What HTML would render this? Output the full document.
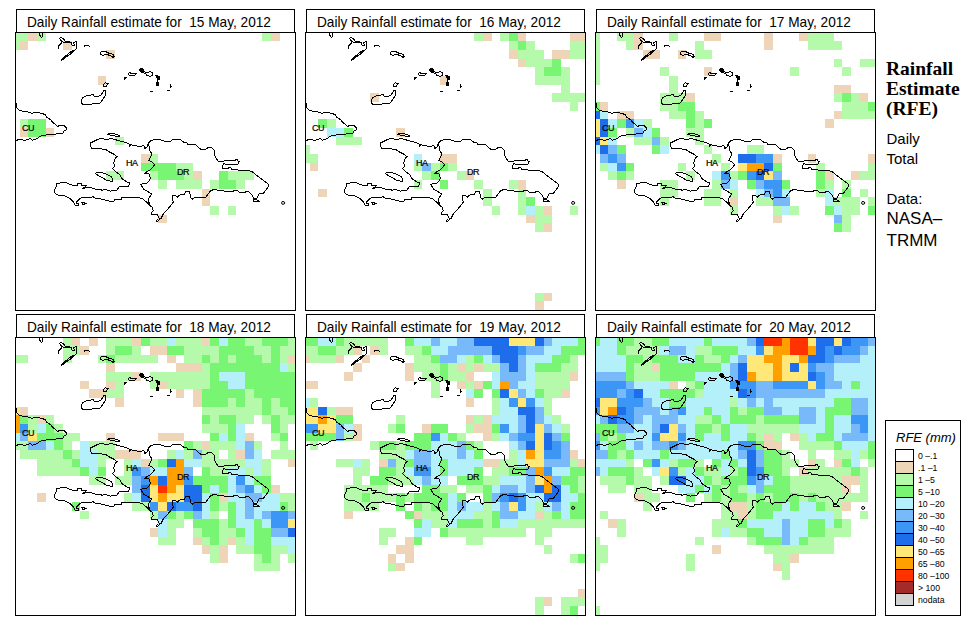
<!DOCTYPE html>
<html><head><meta charset="utf-8"><title>Rainfall Estimate</title>
<style>
html,body{margin:0;padding:0;background:#fff}
body{width:971px;height:635px;position:relative;overflow:hidden;font-family:"Liberation Sans",sans-serif;color:#000}
.t{position:absolute;font-size:14.8px;line-height:22px;white-space:pre;transform:scaleX(0.922);transform-origin:0 0}
.c{position:absolute;font-size:9px;line-height:10px;letter-spacing:-0.5px;-webkit-text-stroke:0.2px #000}
.rt{position:absolute;left:886px;top:59.1px;font-family:"Liberation Serif",serif;font-weight:bold;font-size:19.5px;line-height:19.8px;white-space:nowrap}
.rs{position:absolute;left:886.5px;font-size:15px;line-height:20px;white-space:nowrap}
.rb{position:absolute;left:886.5px;font-size:17px;line-height:22px;white-space:nowrap}
.lg{position:absolute;left:885px;top:420px;width:74px;height:194px;border:1px solid #000;box-sizing:content-box}
.lt{position:absolute;left:10px;top:8.6px;font-style:italic;font-size:13px;line-height:15px;white-space:nowrap}
.sw{position:absolute;left:9px;width:17px;height:11px;border:1px solid #000;box-sizing:content-box}
.ll{position:absolute;left:32px;font-size:8.7px;line-height:13px;white-space:nowrap}
</style></head><body>
<svg width="971" height="635" viewBox="0 0 971 635" style="position:absolute;left:0;top:0" shape-rendering="crispEdges"><rect x="16" y="33" width="12" height="8" fill="#B4FAAA"/><rect x="28" y="33" width="9" height="8" fill="#EED5B7"/><rect x="37" y="33" width="9" height="8" fill="#B4FAAA"/><rect x="262" y="33" width="9" height="8" fill="#B4FAAA"/><rect x="271" y="33" width="9" height="8" fill="#EED5B7"/><rect x="16" y="41" width="4" height="9" fill="#B4FAAA"/><rect x="20" y="41" width="8" height="9" fill="#EED5B7"/><rect x="63" y="41" width="9" height="9" fill="#EED5B7"/><rect x="106" y="50" width="9" height="9" fill="#EED5B7"/><rect x="98" y="76" width="8" height="9" fill="#EED5B7"/><rect x="20" y="119" width="8" height="9" fill="#B4FAAA"/><rect x="28" y="119" width="18" height="9" fill="#78F573"/><rect x="20" y="128" width="8" height="9" fill="#EED5B7"/><rect x="28" y="128" width="18" height="9" fill="#78F573"/><rect x="46" y="128" width="8" height="9" fill="#EED5B7"/><rect x="115" y="137" width="9" height="8" fill="#B4FAAA"/><rect x="141" y="154" width="9" height="9" fill="#EED5B7"/><rect x="150" y="154" width="8" height="9" fill="#B4FAAA"/><rect x="141" y="163" width="35" height="8" fill="#78F573"/><rect x="176" y="163" width="17" height="8" fill="#B4FAAA"/><rect x="106" y="171" width="18" height="9" fill="#B4FAAA"/><rect x="150" y="171" width="8" height="9" fill="#B4FAAA"/><rect x="158" y="171" width="26" height="9" fill="#78F573"/><rect x="184" y="171" width="9" height="9" fill="#B4FAAA"/><rect x="193" y="171" width="9" height="9" fill="#EED5B7"/><rect x="219" y="171" width="9" height="9" fill="#78F573"/><rect x="228" y="171" width="26" height="9" fill="#B4FAAA"/><rect x="158" y="180" width="9" height="9" fill="#B4FAAA"/><rect x="176" y="180" width="26" height="9" fill="#B4FAAA"/><rect x="210" y="180" width="9" height="9" fill="#B4FAAA"/><rect x="219" y="180" width="17" height="9" fill="#78F573"/><rect x="236" y="180" width="9" height="9" fill="#B4FAAA"/><rect x="202" y="189" width="8" height="8" fill="#EED5B7"/><rect x="202" y="197" width="8" height="9" fill="#EED5B7"/><rect x="210" y="206" width="9" height="9" fill="#B4FAAA"/><rect x="228" y="206" width="8" height="9" fill="#B4FAAA"/><rect x="158" y="215" width="9" height="8" fill="#EED5B7"/><g transform="translate(15,32)" fill="none" stroke="#000" stroke-width="1" shape-rendering="crispEdges" stroke-linejoin="round" stroke-linecap="round"><path d="M75.1,113.4 L75.7,110.9 L79.8,108.8 L85.4,106.2 L90.6,107.3 L96.8,106.8 L100.9,107.8 L105.5,109.3 L111.2,110.4 L114.3,112.4 L114.8,114.5 L115.8,112.9 L120.5,113.4 L124.1,115.0 L126.1,114.5 L127.7,113.2 L129.5,114.5 L129.7,116.3 L131.8,115.5 L133.3,111.4 L135.9,108.8 L140.0,107.5 L144.2,107.5 L148.3,108.8 L152.4,109.8 L155.0,109.5 L158.1,107.4 L161.7,107.9 L165.3,107.2 L168.4,110.0 L172.0,111.0 L172.5,112.4 L180.7,112.4 L183.3,115.1 L185.9,117.5 L190.5,117.5 L193.1,115.5 L196.7,115.5 L199.3,118.2 L199.5,122.9 L200.8,126.0 L203.4,129.3 L208.6,129.3 L210.6,128.5 L216.8,128.5 L219.4,129.0 L220.9,127.5 L222.5,127.5 L223.0,129.0 L224.5,129.6 L222.8,132.1 L216.8,132.3 L211.1,132.3 L208.6,131.6 L207.7,134.2 L207.5,136.3 L213.7,136.3 L214.2,135.2 L215.8,135.4 L216.8,137.1 L220.9,137.8 L225.0,138.3 L226.1,139.1 L228.6,138.3 L233.3,138.3 L237.4,139.9 L240.5,142.4 L244.6,145.5 L248.7,148.6 L252.3,151.2 L253.9,152.7 L253.9,153.6 L251.1,157.7 L248.5,161.3 L244.4,161.0 L243.0,163.9 L241.8,166.5 L238.7,167.0 L238.2,166.0 L237.2,162.9 L234.1,160.0 L231.0,159.3 L229.4,161.0 L225.3,160.6 L222.2,158.7 L218.6,158.2 L218.1,159.3 L209.9,159.3 L207.8,158.2 L203.2,158.2 L198.5,157.5 L194.9,159.3 L192.9,162.4 L190.7,165.1 L179.9,165.1 L177.3,167.2 L175.6,165.9 L174.7,159.8 L171.1,159.3 L169.6,162.1 L165.5,162.4 L162.4,165.1 L160.3,163.4 L157.7,163.6 L157.4,166.2 L158.3,170.0 L154.7,174.9 L150.0,180.1 L148.0,182.6 L145.9,186.8 L144.4,187.3 L142.3,182.3 L136.6,182.1 L137.1,179.6 L138.2,179.0 L137.1,175.1 L134.6,173.4 L131.5,169.9 L127.4,166.8 L123.3,165.3 L115.0,165.3 L106.8,165.6 L106.3,167.9 L99.6,167.4 L99.1,168.9 L96.5,169.4 L91.3,168.4 L84.1,166.6 L79.0,165.8 L78.0,164.6 L75.9,165.3 L71.8,165.8 L66.1,165.8 L63.0,168.4 L61.0,171.0 L63.4,171.5 L63.4,173.5 L60.3,173.3 L58.3,170.0 L56.6,167.9 L53.6,165.6 L49.4,163.7 L45.3,163.5 L41.2,162.5 L39.6,160.1 L39.6,158.1 L41.0,155.0 L41.7,151.9 L46.3,150.6 L50.5,150.2 L52.5,151.4 L57.7,153.4 L62.8,154.0 L62.8,151.4 L65.9,151.2 L66.9,153.4 L71.1,153.2 L70.0,156.0 L67.5,156.5 L70.2,155.0 L75.9,155.5 L80.0,157.1 L87.2,158.1 L90.3,157.6 L95.5,159.1 L102.2,158.1 L104.2,154.5 L108.9,154.3 L113.5,155.0 L114.5,150.9 L111.2,149.5 L106.6,146.4 L105.0,142.8 L100.9,139.7 L97.8,136.6 L99.9,133.5 L98.3,131.0 L99.4,128.9 L100.4,125.8 L102.4,125.0 L99.9,122.7 L94.7,120.1 L90.6,117.4 L83.4,116.7 L76.7,116.5Z"/><path d="M133.3,111.4 L134.4,115.5 L134.9,118.6 L136.4,121.2 L135.9,124.3 L134.4,126.8 L133.9,128.4 L136.9,129.9 L139.8,132.5 L138.0,135.1 L135.4,137.6 L132.8,139.2 L129.7,141.3 L133.9,141.8 L134.7,143.3 L135.4,146.4 L133.9,149.0 L132.3,151.0 L125.5,152.4 L128.9,157.4 L133.6,160.1 L136.7,162.2 L135.6,163.7 L133.5,167.0 L133.8,169.5 L134.6,173.4"/><path d="M1.2,71.6 L1.9,76.2 L4.6,78.8 L10.3,79.3 L15.4,80.6 L17.0,81.4 L19.1,80.4 L23.2,80.6 L29.9,82.4 L31.9,85.5 L35.5,87.6 L37.6,90.1 L40.7,92.7 L42.7,94.3 L45.8,93.2 L48.9,93.5 L51.5,95.8 L51.0,97.9 L48.4,99.4 L47.9,101.0 L43.3,101.5 L39.1,102.5 L30.9,103.0 L25.7,104.0 L22.1,106.6 L19.1,107.6 L17.0,108.2 L15.4,106.1 L13.4,107.6 L9.3,108.2 L5.1,107.3 L1.0,108.4"/><path d="M66.3,68.6 L67.4,66.0 L72.0,63.5 L76.6,63.0 L78.5,62.4 L78.9,64.0 L82.3,64.5 L85.4,63.5 L88.0,60.4 L88.8,58.3 L90.5,58.3 L90.8,62.4 L89.0,65.5 L86.9,68.6 L84.9,71.2 L77.1,72.0 L73.5,72.2 L67.9,72.2 L66.3,70.7Z"/><path d="M88.2,52.9 L90.5,50.8 L93.3,51.8 L91.0,54.5 L89.0,54.5Z"/><path d="M92.1,102.3 L95.2,101.1 L99.9,101.9 L105.0,103.7 L104.0,104.7 L98.8,103.7 L94.7,102.9Z"/><path d="M80.3,141.3 L82.9,140.0 L86.5,140.4 L92.1,142.3 L96.3,144.9 L97.8,147.4 L97.3,149.5 L92.1,148.5 L87.0,145.6 L82.9,143.3Z"/><path d="M66.9,170.4 L69.2,170.2 L70.0,171.5 L69.5,172.8 L67.5,172.5Z"/><path d="M70.0,171.5 L71.6,171.5"/><path d="M141.3,188.8 L142.3,187.5 L143.6,188.5 L142.6,189.9Z"/><path d="M24.2,1.2 L25.2,4.1 L26.6,5.4 L27.6,3.6 L27.3,1.2"/><path d="M44.3,6.5 L45.8,5.4 L47.9,6.4 L50.5,9.3 L56.1,10.1 L56.4,12.9 L59.2,13.4 L58.7,10.3 L61.6,9.5 L61.8,16.5 L59.2,18.5 L55.6,22.1 L50.5,25.2 L46.3,28.8 L46.9,27.3 L51.5,23.2 L56.1,19.6 L58.7,18.0"/><path d="M47.4,9.8 L45.3,12.4 L43.3,14.4 L43.3,16.5"/><path d="M44.3,6.5 L47.4,9.8 L51.0,10.8 L56.1,10.1"/><path d="M69.0,15.4 L69.0,13.1 L72.0,13.1 L74.7,14.4"/><path d="M85.3,21.1 L86.5,19.4 L90.6,19.6 L93.7,21.1 L97.8,22.1 L99.7,24.7 L97.8,25.2 L95.3,23.2 L90.6,22.7 L87.5,23.5 L85.5,22.1Z"/><path d="M124.2,37.7 L126.1,36.4 L128.3,37.4 L128.6,39.8 L131.7,40.3 L135.8,39.8 L137.9,41.3 L137.2,43.9 L134.3,44.2 L131.7,43.2 L130.2,41.3 L127.1,40.3 L125.0,39.1Z"/><path d="M140.3,43.4 L142.5,44.4 L144.6,44.4 L144.8,47.5 L143.1,47.0 L142.5,50.1 L143.8,51.1 L143.4,53.2 L141.3,53.7 L141.7,51.1"/><path d="M155.2,52.1 L155.4,55.2 L156.7,54.2"/><path d="M237.9,168.9 L238.9,167.4 L241.6,167.0 L241.9,168.2 L244.5,169.4 L238.3,169.4Z"/><path d="M113.5,42.4 L114.5,40.3 L116.6,41.8 L119.4,41.5 L121.7,41.1 L119.9,43.4 L116.8,43.6 L114.2,43.4Z"/><g fill="#000"><path d="M109.1,45.4 L111.6,45.2 L109.6,47.7Z"/><path d="M140.6,43.6 L144.6,44.4 L144.8,47.5 L143.1,47.0 L142.2,45.6Z"/><path d="M141.5,50.8 L143.6,51.0 L143.4,53.2 L141.5,53.5Z"/><path d="M124.4,37.7 L126.1,36.6 L128.1,37.5 L128.4,39.6 L127.1,40.1 L125.2,39.0Z"/></g><path d="M135.1,59.4H137.9M152.9,58.3H155"/><circle cx="268.1" cy="170.9" r="1.5" shape-rendering="geometricPrecision"/></g><rect x="15.5" y="32.5" width="280" height="278" fill="none" stroke="#000" stroke-width="1"/><rect x="16.5" y="9.5" width="278" height="23" fill="#fff" stroke="#000" stroke-width="1"/><rect x="474" y="33" width="9" height="8" fill="#B4FAAA"/><rect x="483" y="33" width="9" height="8" fill="#EED5B7"/><rect x="500" y="33" width="9" height="8" fill="#B4FAAA"/><rect x="509" y="33" width="9" height="8" fill="#78F573"/><rect x="518" y="33" width="8" height="8" fill="#EED5B7"/><rect x="570" y="33" width="15" height="8" fill="#EED5B7"/><rect x="509" y="41" width="9" height="9" fill="#B4FAAA"/><rect x="518" y="41" width="8" height="9" fill="#78F573"/><rect x="526" y="41" width="9" height="9" fill="#B4FAAA"/><rect x="570" y="41" width="15" height="9" fill="#B4FAAA"/><rect x="509" y="50" width="9" height="9" fill="#EED5B7"/><rect x="518" y="50" width="26" height="9" fill="#B4FAAA"/><rect x="552" y="50" width="18" height="9" fill="#EED5B7"/><rect x="570" y="50" width="15" height="9" fill="#B4FAAA"/><rect x="518" y="59" width="8" height="8" fill="#EED5B7"/><rect x="526" y="59" width="26" height="8" fill="#B4FAAA"/><rect x="552" y="59" width="9" height="8" fill="#78F573"/><rect x="535" y="67" width="9" height="9" fill="#B4FAAA"/><rect x="544" y="67" width="17" height="9" fill="#78F573"/><rect x="561" y="67" width="9" height="9" fill="#B4FAAA"/><rect x="440" y="76" width="8" height="9" fill="#EED5B7"/><rect x="535" y="76" width="35" height="9" fill="#B4FAAA"/><rect x="561" y="85" width="9" height="8" fill="#B4FAAA"/><rect x="370" y="93" width="9" height="9" fill="#EED5B7"/><rect x="552" y="93" width="33" height="9" fill="#B4FAAA"/><rect x="570" y="102" width="8" height="9" fill="#B4FAAA"/><rect x="318" y="119" width="9" height="9" fill="#78F573"/><rect x="327" y="119" width="9" height="9" fill="#B4FAAA"/><rect x="327" y="128" width="17" height="9" fill="#B4F0FA"/><rect x="344" y="128" width="9" height="9" fill="#78F573"/><rect x="396" y="128" width="9" height="9" fill="#EED5B7"/><rect x="336" y="137" width="26" height="8" fill="#B4FAAA"/><rect x="306" y="145" width="4" height="9" fill="#B4FAAA"/><rect x="306" y="154" width="12" height="9" fill="#B4FAAA"/><rect x="414" y="154" width="8" height="9" fill="#B4F0FA"/><rect x="440" y="154" width="17" height="9" fill="#EED5B7"/><rect x="310" y="163" width="8" height="8" fill="#EED5B7"/><rect x="414" y="163" width="8" height="8" fill="#B4FAAA"/><rect x="422" y="163" width="9" height="8" fill="#78B9FA"/><rect x="431" y="163" width="9" height="8" fill="#B4FAAA"/><rect x="440" y="163" width="8" height="8" fill="#78F573"/><rect x="448" y="163" width="9" height="8" fill="#B4FAAA"/><rect x="422" y="171" width="9" height="9" fill="#B4FAAA"/><rect x="431" y="171" width="9" height="9" fill="#78F573"/><rect x="457" y="171" width="9" height="9" fill="#B4FAAA"/><rect x="466" y="171" width="8" height="9" fill="#EED5B7"/><rect x="414" y="180" width="8" height="9" fill="#B4FAAA"/><rect x="440" y="180" width="8" height="9" fill="#78F573"/><rect x="474" y="180" width="9" height="9" fill="#B4FAAA"/><rect x="509" y="180" width="9" height="9" fill="#B4FAAA"/><rect x="518" y="180" width="8" height="9" fill="#EED5B7"/><rect x="318" y="189" width="9" height="8" fill="#EED5B7"/><rect x="483" y="189" width="9" height="8" fill="#B4FAAA"/><rect x="518" y="189" width="8" height="8" fill="#B4FAAA"/><rect x="483" y="197" width="9" height="9" fill="#B4FAAA"/><rect x="518" y="197" width="8" height="9" fill="#B4FAAA"/><rect x="526" y="197" width="9" height="9" fill="#78F573"/><rect x="492" y="206" width="8" height="9" fill="#B4FAAA"/><rect x="518" y="206" width="8" height="9" fill="#B4FAAA"/><rect x="526" y="206" width="9" height="9" fill="#B4F0FA"/><rect x="535" y="206" width="9" height="9" fill="#B4FAAA"/><rect x="544" y="206" width="8" height="9" fill="#EED5B7"/><rect x="570" y="206" width="8" height="9" fill="#B4FAAA"/><rect x="526" y="215" width="9" height="8" fill="#EED5B7"/><rect x="535" y="215" width="17" height="8" fill="#B4FAAA"/><rect x="535" y="223" width="9" height="9" fill="#B4FAAA"/><rect x="544" y="223" width="8" height="9" fill="#EED5B7"/><rect x="535" y="293" width="9" height="8" fill="#B4FAAA"/><rect x="544" y="293" width="8" height="8" fill="#EED5B7"/><rect x="535" y="301" width="9" height="9" fill="#EED5B7"/><g transform="translate(305,32)" fill="none" stroke="#000" stroke-width="1" shape-rendering="crispEdges" stroke-linejoin="round" stroke-linecap="round"><path d="M75.1,113.4 L75.7,110.9 L79.8,108.8 L85.4,106.2 L90.6,107.3 L96.8,106.8 L100.9,107.8 L105.5,109.3 L111.2,110.4 L114.3,112.4 L114.8,114.5 L115.8,112.9 L120.5,113.4 L124.1,115.0 L126.1,114.5 L127.7,113.2 L129.5,114.5 L129.7,116.3 L131.8,115.5 L133.3,111.4 L135.9,108.8 L140.0,107.5 L144.2,107.5 L148.3,108.8 L152.4,109.8 L155.0,109.5 L158.1,107.4 L161.7,107.9 L165.3,107.2 L168.4,110.0 L172.0,111.0 L172.5,112.4 L180.7,112.4 L183.3,115.1 L185.9,117.5 L190.5,117.5 L193.1,115.5 L196.7,115.5 L199.3,118.2 L199.5,122.9 L200.8,126.0 L203.4,129.3 L208.6,129.3 L210.6,128.5 L216.8,128.5 L219.4,129.0 L220.9,127.5 L222.5,127.5 L223.0,129.0 L224.5,129.6 L222.8,132.1 L216.8,132.3 L211.1,132.3 L208.6,131.6 L207.7,134.2 L207.5,136.3 L213.7,136.3 L214.2,135.2 L215.8,135.4 L216.8,137.1 L220.9,137.8 L225.0,138.3 L226.1,139.1 L228.6,138.3 L233.3,138.3 L237.4,139.9 L240.5,142.4 L244.6,145.5 L248.7,148.6 L252.3,151.2 L253.9,152.7 L253.9,153.6 L251.1,157.7 L248.5,161.3 L244.4,161.0 L243.0,163.9 L241.8,166.5 L238.7,167.0 L238.2,166.0 L237.2,162.9 L234.1,160.0 L231.0,159.3 L229.4,161.0 L225.3,160.6 L222.2,158.7 L218.6,158.2 L218.1,159.3 L209.9,159.3 L207.8,158.2 L203.2,158.2 L198.5,157.5 L194.9,159.3 L192.9,162.4 L190.7,165.1 L179.9,165.1 L177.3,167.2 L175.6,165.9 L174.7,159.8 L171.1,159.3 L169.6,162.1 L165.5,162.4 L162.4,165.1 L160.3,163.4 L157.7,163.6 L157.4,166.2 L158.3,170.0 L154.7,174.9 L150.0,180.1 L148.0,182.6 L145.9,186.8 L144.4,187.3 L142.3,182.3 L136.6,182.1 L137.1,179.6 L138.2,179.0 L137.1,175.1 L134.6,173.4 L131.5,169.9 L127.4,166.8 L123.3,165.3 L115.0,165.3 L106.8,165.6 L106.3,167.9 L99.6,167.4 L99.1,168.9 L96.5,169.4 L91.3,168.4 L84.1,166.6 L79.0,165.8 L78.0,164.6 L75.9,165.3 L71.8,165.8 L66.1,165.8 L63.0,168.4 L61.0,171.0 L63.4,171.5 L63.4,173.5 L60.3,173.3 L58.3,170.0 L56.6,167.9 L53.6,165.6 L49.4,163.7 L45.3,163.5 L41.2,162.5 L39.6,160.1 L39.6,158.1 L41.0,155.0 L41.7,151.9 L46.3,150.6 L50.5,150.2 L52.5,151.4 L57.7,153.4 L62.8,154.0 L62.8,151.4 L65.9,151.2 L66.9,153.4 L71.1,153.2 L70.0,156.0 L67.5,156.5 L70.2,155.0 L75.9,155.5 L80.0,157.1 L87.2,158.1 L90.3,157.6 L95.5,159.1 L102.2,158.1 L104.2,154.5 L108.9,154.3 L113.5,155.0 L114.5,150.9 L111.2,149.5 L106.6,146.4 L105.0,142.8 L100.9,139.7 L97.8,136.6 L99.9,133.5 L98.3,131.0 L99.4,128.9 L100.4,125.8 L102.4,125.0 L99.9,122.7 L94.7,120.1 L90.6,117.4 L83.4,116.7 L76.7,116.5Z"/><path d="M133.3,111.4 L134.4,115.5 L134.9,118.6 L136.4,121.2 L135.9,124.3 L134.4,126.8 L133.9,128.4 L136.9,129.9 L139.8,132.5 L138.0,135.1 L135.4,137.6 L132.8,139.2 L129.7,141.3 L133.9,141.8 L134.7,143.3 L135.4,146.4 L133.9,149.0 L132.3,151.0 L125.5,152.4 L128.9,157.4 L133.6,160.1 L136.7,162.2 L135.6,163.7 L133.5,167.0 L133.8,169.5 L134.6,173.4"/><path d="M1.2,71.6 L1.9,76.2 L4.6,78.8 L10.3,79.3 L15.4,80.6 L17.0,81.4 L19.1,80.4 L23.2,80.6 L29.9,82.4 L31.9,85.5 L35.5,87.6 L37.6,90.1 L40.7,92.7 L42.7,94.3 L45.8,93.2 L48.9,93.5 L51.5,95.8 L51.0,97.9 L48.4,99.4 L47.9,101.0 L43.3,101.5 L39.1,102.5 L30.9,103.0 L25.7,104.0 L22.1,106.6 L19.1,107.6 L17.0,108.2 L15.4,106.1 L13.4,107.6 L9.3,108.2 L5.1,107.3 L1.0,108.4"/><path d="M66.3,68.6 L67.4,66.0 L72.0,63.5 L76.6,63.0 L78.5,62.4 L78.9,64.0 L82.3,64.5 L85.4,63.5 L88.0,60.4 L88.8,58.3 L90.5,58.3 L90.8,62.4 L89.0,65.5 L86.9,68.6 L84.9,71.2 L77.1,72.0 L73.5,72.2 L67.9,72.2 L66.3,70.7Z"/><path d="M88.2,52.9 L90.5,50.8 L93.3,51.8 L91.0,54.5 L89.0,54.5Z"/><path d="M92.1,102.3 L95.2,101.1 L99.9,101.9 L105.0,103.7 L104.0,104.7 L98.8,103.7 L94.7,102.9Z"/><path d="M80.3,141.3 L82.9,140.0 L86.5,140.4 L92.1,142.3 L96.3,144.9 L97.8,147.4 L97.3,149.5 L92.1,148.5 L87.0,145.6 L82.9,143.3Z"/><path d="M66.9,170.4 L69.2,170.2 L70.0,171.5 L69.5,172.8 L67.5,172.5Z"/><path d="M70.0,171.5 L71.6,171.5"/><path d="M141.3,188.8 L142.3,187.5 L143.6,188.5 L142.6,189.9Z"/><path d="M24.2,1.2 L25.2,4.1 L26.6,5.4 L27.6,3.6 L27.3,1.2"/><path d="M44.3,6.5 L45.8,5.4 L47.9,6.4 L50.5,9.3 L56.1,10.1 L56.4,12.9 L59.2,13.4 L58.7,10.3 L61.6,9.5 L61.8,16.5 L59.2,18.5 L55.6,22.1 L50.5,25.2 L46.3,28.8 L46.9,27.3 L51.5,23.2 L56.1,19.6 L58.7,18.0"/><path d="M47.4,9.8 L45.3,12.4 L43.3,14.4 L43.3,16.5"/><path d="M44.3,6.5 L47.4,9.8 L51.0,10.8 L56.1,10.1"/><path d="M69.0,15.4 L69.0,13.1 L72.0,13.1 L74.7,14.4"/><path d="M85.3,21.1 L86.5,19.4 L90.6,19.6 L93.7,21.1 L97.8,22.1 L99.7,24.7 L97.8,25.2 L95.3,23.2 L90.6,22.7 L87.5,23.5 L85.5,22.1Z"/><path d="M124.2,37.7 L126.1,36.4 L128.3,37.4 L128.6,39.8 L131.7,40.3 L135.8,39.8 L137.9,41.3 L137.2,43.9 L134.3,44.2 L131.7,43.2 L130.2,41.3 L127.1,40.3 L125.0,39.1Z"/><path d="M140.3,43.4 L142.5,44.4 L144.6,44.4 L144.8,47.5 L143.1,47.0 L142.5,50.1 L143.8,51.1 L143.4,53.2 L141.3,53.7 L141.7,51.1"/><path d="M155.2,52.1 L155.4,55.2 L156.7,54.2"/><path d="M237.9,168.9 L238.9,167.4 L241.6,167.0 L241.9,168.2 L244.5,169.4 L238.3,169.4Z"/><path d="M113.5,42.4 L114.5,40.3 L116.6,41.8 L119.4,41.5 L121.7,41.1 L119.9,43.4 L116.8,43.6 L114.2,43.4Z"/><g fill="#000"><path d="M109.1,45.4 L111.6,45.2 L109.6,47.7Z"/><path d="M140.6,43.6 L144.6,44.4 L144.8,47.5 L143.1,47.0 L142.2,45.6Z"/><path d="M141.5,50.8 L143.6,51.0 L143.4,53.2 L141.5,53.5Z"/><path d="M124.4,37.7 L126.1,36.6 L128.1,37.5 L128.4,39.6 L127.1,40.1 L125.2,39.0Z"/></g><path d="M135.1,59.4H137.9M152.9,58.3H155"/><circle cx="268.1" cy="170.9" r="1.5" shape-rendering="geometricPrecision"/></g><rect x="305.5" y="32.5" width="280" height="278" fill="none" stroke="#000" stroke-width="1"/><rect x="306.5" y="9.5" width="278" height="23" fill="#fff" stroke="#000" stroke-width="1"/><rect x="596" y="33" width="4" height="8" fill="#B4FAAA"/><rect x="617" y="33" width="17" height="8" fill="#B4FAAA"/><rect x="634" y="33" width="9" height="8" fill="#EED5B7"/><rect x="669" y="33" width="9" height="8" fill="#B4FAAA"/><rect x="704" y="33" width="17" height="8" fill="#EED5B7"/><rect x="764" y="33" width="9" height="8" fill="#EED5B7"/><rect x="799" y="33" width="9" height="8" fill="#EED5B7"/><rect x="808" y="33" width="26" height="8" fill="#B4FAAA"/><rect x="596" y="41" width="4" height="9" fill="#B4FAAA"/><rect x="626" y="41" width="8" height="9" fill="#B4FAAA"/><rect x="634" y="41" width="9" height="9" fill="#EED5B7"/><rect x="695" y="41" width="9" height="9" fill="#B4FAAA"/><rect x="764" y="41" width="9" height="9" fill="#EED5B7"/><rect x="808" y="41" width="34" height="9" fill="#B4FAAA"/><rect x="596" y="50" width="4" height="9" fill="#B4FAAA"/><rect x="643" y="50" width="17" height="9" fill="#EED5B7"/><rect x="678" y="50" width="8" height="9" fill="#EED5B7"/><rect x="695" y="50" width="17" height="9" fill="#B4FAAA"/><rect x="596" y="59" width="4" height="8" fill="#B4FAAA"/><rect x="834" y="59" width="8" height="8" fill="#B4FAAA"/><rect x="860" y="59" width="15" height="8" fill="#B4FAAA"/><rect x="596" y="67" width="4" height="9" fill="#B4FAAA"/><rect x="660" y="67" width="9" height="9" fill="#B4FAAA"/><rect x="704" y="67" width="8" height="9" fill="#EED5B7"/><rect x="790" y="67" width="9" height="9" fill="#B4FAAA"/><rect x="842" y="67" width="9" height="9" fill="#B4FAAA"/><rect x="596" y="76" width="4" height="9" fill="#B4FAAA"/><rect x="669" y="76" width="9" height="9" fill="#B4FAAA"/><rect x="669" y="85" width="9" height="8" fill="#B4FAAA"/><rect x="834" y="85" width="17" height="8" fill="#EED5B7"/><rect x="660" y="93" width="26" height="9" fill="#B4FAAA"/><rect x="686" y="93" width="9" height="9" fill="#EED5B7"/><rect x="834" y="93" width="8" height="9" fill="#B4FAAA"/><rect x="842" y="93" width="9" height="9" fill="#78F573"/><rect x="851" y="93" width="9" height="9" fill="#B4FAAA"/><rect x="860" y="93" width="8" height="9" fill="#EED5B7"/><rect x="596" y="102" width="4" height="9" fill="#78F573"/><rect x="600" y="102" width="8" height="9" fill="#EED5B7"/><rect x="660" y="102" width="18" height="9" fill="#B4FAAA"/><rect x="678" y="102" width="17" height="9" fill="#78F573"/><rect x="842" y="102" width="26" height="9" fill="#B4FAAA"/><rect x="868" y="102" width="7" height="9" fill="#78F573"/><rect x="596" y="111" width="4" height="8" fill="#1E6EEB"/><rect x="600" y="111" width="8" height="8" fill="#B4F0FA"/><rect x="617" y="111" width="17" height="8" fill="#EED5B7"/><rect x="669" y="111" width="17" height="8" fill="#B4FAAA"/><rect x="686" y="111" width="9" height="8" fill="#78F573"/><rect x="695" y="111" width="9" height="8" fill="#B4FAAA"/><rect x="834" y="111" width="8" height="8" fill="#EED5B7"/><rect x="842" y="111" width="33" height="8" fill="#B4FAAA"/><rect x="596" y="119" width="4" height="9" fill="#FFE878"/><rect x="600" y="119" width="8" height="9" fill="#1E6EEB"/><rect x="608" y="119" width="9" height="9" fill="#B4F0FA"/><rect x="617" y="119" width="9" height="9" fill="#78F573"/><rect x="626" y="119" width="8" height="9" fill="#3C96F5"/><rect x="634" y="119" width="9" height="9" fill="#B4F0FA"/><rect x="643" y="119" width="9" height="9" fill="#B4FAAA"/><rect x="686" y="119" width="9" height="9" fill="#78F573"/><rect x="695" y="119" width="9" height="9" fill="#B4FAAA"/><rect x="704" y="119" width="8" height="9" fill="#78F573"/><rect x="825" y="119" width="9" height="9" fill="#EED5B7"/><rect x="596" y="128" width="4" height="9" fill="#FFE878"/><rect x="600" y="128" width="8" height="9" fill="#1E6EEB"/><rect x="608" y="128" width="9" height="9" fill="#78F573"/><rect x="626" y="128" width="8" height="9" fill="#B4FAAA"/><rect x="634" y="128" width="9" height="9" fill="#78B9FA"/><rect x="643" y="128" width="9" height="9" fill="#B4F0FA"/><rect x="652" y="128" width="8" height="9" fill="#78F573"/><rect x="686" y="128" width="18" height="9" fill="#B4FAAA"/><rect x="596" y="137" width="4" height="8" fill="#1E6EEB"/><rect x="600" y="137" width="8" height="8" fill="#FFE878"/><rect x="608" y="137" width="9" height="8" fill="#B4F0FA"/><rect x="634" y="137" width="18" height="8" fill="#B4FAAA"/><rect x="652" y="137" width="8" height="8" fill="#78B9FA"/><rect x="660" y="137" width="9" height="8" fill="#B4FAAA"/><rect x="695" y="137" width="9" height="8" fill="#B4FAAA"/><rect x="596" y="145" width="4" height="9" fill="#B4F0FA"/><rect x="600" y="145" width="8" height="9" fill="#1E6EEB"/><rect x="608" y="145" width="9" height="9" fill="#78B9FA"/><rect x="617" y="145" width="9" height="9" fill="#78F573"/><rect x="652" y="145" width="8" height="9" fill="#78F573"/><rect x="660" y="145" width="9" height="9" fill="#B4F0FA"/><rect x="704" y="145" width="8" height="9" fill="#B4FAAA"/><rect x="747" y="145" width="17" height="9" fill="#B4FAAA"/><rect x="600" y="154" width="8" height="9" fill="#78B9FA"/><rect x="608" y="154" width="9" height="9" fill="#3C96F5"/><rect x="617" y="154" width="9" height="9" fill="#78B9FA"/><rect x="712" y="154" width="9" height="9" fill="#B4FAAA"/><rect x="738" y="154" width="18" height="9" fill="#1E6EEB"/><rect x="756" y="154" width="17" height="9" fill="#3C96F5"/><rect x="773" y="154" width="9" height="9" fill="#EED5B7"/><rect x="808" y="154" width="8" height="9" fill="#EED5B7"/><rect x="868" y="154" width="7" height="9" fill="#EED5B7"/><rect x="600" y="163" width="8" height="8" fill="#B4FAAA"/><rect x="608" y="163" width="9" height="8" fill="#B4F0FA"/><rect x="617" y="163" width="9" height="8" fill="#3C96F5"/><rect x="626" y="163" width="8" height="8" fill="#78F573"/><rect x="678" y="163" width="8" height="8" fill="#B4FAAA"/><rect x="721" y="163" width="9" height="8" fill="#B4FAAA"/><rect x="738" y="163" width="9" height="8" fill="#FFE878"/><rect x="747" y="163" width="17" height="8" fill="#FFA000"/><rect x="764" y="163" width="9" height="8" fill="#1E6EEB"/><rect x="773" y="163" width="9" height="8" fill="#78F573"/><rect x="816" y="163" width="9" height="8" fill="#B4FAAA"/><rect x="868" y="163" width="7" height="8" fill="#B4FAAA"/><rect x="608" y="171" width="9" height="9" fill="#B4FAAA"/><rect x="617" y="171" width="9" height="9" fill="#78F573"/><rect x="626" y="171" width="8" height="9" fill="#B4FAAA"/><rect x="686" y="171" width="9" height="9" fill="#B4FAAA"/><rect x="712" y="171" width="9" height="9" fill="#B4F0FA"/><rect x="721" y="171" width="9" height="9" fill="#3C96F5"/><rect x="730" y="171" width="8" height="9" fill="#B4FAAA"/><rect x="738" y="171" width="9" height="9" fill="#78F573"/><rect x="747" y="171" width="9" height="9" fill="#3C96F5"/><rect x="756" y="171" width="8" height="9" fill="#1E6EEB"/><rect x="764" y="171" width="9" height="9" fill="#FFE878"/><rect x="773" y="171" width="9" height="9" fill="#78B9FA"/><rect x="816" y="171" width="9" height="9" fill="#78F573"/><rect x="825" y="171" width="9" height="9" fill="#EED5B7"/><rect x="851" y="171" width="9" height="9" fill="#EED5B7"/><rect x="860" y="171" width="15" height="9" fill="#B4FAAA"/><rect x="617" y="180" width="9" height="9" fill="#EED5B7"/><rect x="660" y="180" width="18" height="9" fill="#B4FAAA"/><rect x="712" y="180" width="9" height="9" fill="#B4FAAA"/><rect x="721" y="180" width="9" height="9" fill="#78B9FA"/><rect x="730" y="180" width="8" height="9" fill="#B4F0FA"/><rect x="747" y="180" width="9" height="9" fill="#78F573"/><rect x="756" y="180" width="8" height="9" fill="#78B9FA"/><rect x="764" y="180" width="18" height="9" fill="#3C96F5"/><rect x="782" y="180" width="8" height="9" fill="#78F573"/><rect x="816" y="180" width="9" height="9" fill="#78F573"/><rect x="825" y="180" width="9" height="9" fill="#B4FAAA"/><rect x="842" y="180" width="9" height="9" fill="#B4FAAA"/><rect x="660" y="189" width="18" height="8" fill="#B4FAAA"/><rect x="704" y="189" width="17" height="8" fill="#B4FAAA"/><rect x="730" y="189" width="8" height="8" fill="#B4FAAA"/><rect x="756" y="189" width="8" height="8" fill="#B4F0FA"/><rect x="764" y="189" width="9" height="8" fill="#78B9FA"/><rect x="773" y="189" width="9" height="8" fill="#3C96F5"/><rect x="782" y="189" width="8" height="8" fill="#B4F0FA"/><rect x="816" y="189" width="9" height="8" fill="#B4FAAA"/><rect x="825" y="189" width="9" height="8" fill="#B4F0FA"/><rect x="842" y="189" width="9" height="8" fill="#78F573"/><rect x="860" y="189" width="8" height="8" fill="#B4FAAA"/><rect x="660" y="197" width="9" height="9" fill="#B4FAAA"/><rect x="704" y="197" width="17" height="9" fill="#B4FAAA"/><rect x="730" y="197" width="8" height="9" fill="#EED5B7"/><rect x="756" y="197" width="17" height="9" fill="#B4FAAA"/><rect x="773" y="197" width="17" height="9" fill="#78B9FA"/><rect x="825" y="197" width="9" height="9" fill="#B4F0FA"/><rect x="834" y="197" width="26" height="9" fill="#B4FAAA"/><rect x="868" y="197" width="7" height="9" fill="#B4FAAA"/><rect x="730" y="206" width="8" height="9" fill="#B4FAAA"/><rect x="773" y="206" width="9" height="9" fill="#B4FAAA"/><rect x="782" y="206" width="8" height="9" fill="#B4F0FA"/><rect x="790" y="206" width="9" height="9" fill="#B4FAAA"/><rect x="825" y="206" width="9" height="9" fill="#78F573"/><rect x="834" y="206" width="8" height="9" fill="#B4F0FA"/><rect x="842" y="206" width="18" height="9" fill="#B4FAAA"/><rect x="868" y="206" width="7" height="9" fill="#78F573"/><rect x="773" y="215" width="9" height="8" fill="#EED5B7"/><rect x="834" y="215" width="8" height="8" fill="#78B9FA"/><rect x="842" y="215" width="9" height="8" fill="#B4FAAA"/><rect x="834" y="223" width="8" height="9" fill="#78F573"/><rect x="842" y="223" width="9" height="9" fill="#B4FAAA"/><g transform="translate(595,32)" fill="none" stroke="#000" stroke-width="1" shape-rendering="crispEdges" stroke-linejoin="round" stroke-linecap="round"><path d="M75.1,113.4 L75.7,110.9 L79.8,108.8 L85.4,106.2 L90.6,107.3 L96.8,106.8 L100.9,107.8 L105.5,109.3 L111.2,110.4 L114.3,112.4 L114.8,114.5 L115.8,112.9 L120.5,113.4 L124.1,115.0 L126.1,114.5 L127.7,113.2 L129.5,114.5 L129.7,116.3 L131.8,115.5 L133.3,111.4 L135.9,108.8 L140.0,107.5 L144.2,107.5 L148.3,108.8 L152.4,109.8 L155.0,109.5 L158.1,107.4 L161.7,107.9 L165.3,107.2 L168.4,110.0 L172.0,111.0 L172.5,112.4 L180.7,112.4 L183.3,115.1 L185.9,117.5 L190.5,117.5 L193.1,115.5 L196.7,115.5 L199.3,118.2 L199.5,122.9 L200.8,126.0 L203.4,129.3 L208.6,129.3 L210.6,128.5 L216.8,128.5 L219.4,129.0 L220.9,127.5 L222.5,127.5 L223.0,129.0 L224.5,129.6 L222.8,132.1 L216.8,132.3 L211.1,132.3 L208.6,131.6 L207.7,134.2 L207.5,136.3 L213.7,136.3 L214.2,135.2 L215.8,135.4 L216.8,137.1 L220.9,137.8 L225.0,138.3 L226.1,139.1 L228.6,138.3 L233.3,138.3 L237.4,139.9 L240.5,142.4 L244.6,145.5 L248.7,148.6 L252.3,151.2 L253.9,152.7 L253.9,153.6 L251.1,157.7 L248.5,161.3 L244.4,161.0 L243.0,163.9 L241.8,166.5 L238.7,167.0 L238.2,166.0 L237.2,162.9 L234.1,160.0 L231.0,159.3 L229.4,161.0 L225.3,160.6 L222.2,158.7 L218.6,158.2 L218.1,159.3 L209.9,159.3 L207.8,158.2 L203.2,158.2 L198.5,157.5 L194.9,159.3 L192.9,162.4 L190.7,165.1 L179.9,165.1 L177.3,167.2 L175.6,165.9 L174.7,159.8 L171.1,159.3 L169.6,162.1 L165.5,162.4 L162.4,165.1 L160.3,163.4 L157.7,163.6 L157.4,166.2 L158.3,170.0 L154.7,174.9 L150.0,180.1 L148.0,182.6 L145.9,186.8 L144.4,187.3 L142.3,182.3 L136.6,182.1 L137.1,179.6 L138.2,179.0 L137.1,175.1 L134.6,173.4 L131.5,169.9 L127.4,166.8 L123.3,165.3 L115.0,165.3 L106.8,165.6 L106.3,167.9 L99.6,167.4 L99.1,168.9 L96.5,169.4 L91.3,168.4 L84.1,166.6 L79.0,165.8 L78.0,164.6 L75.9,165.3 L71.8,165.8 L66.1,165.8 L63.0,168.4 L61.0,171.0 L63.4,171.5 L63.4,173.5 L60.3,173.3 L58.3,170.0 L56.6,167.9 L53.6,165.6 L49.4,163.7 L45.3,163.5 L41.2,162.5 L39.6,160.1 L39.6,158.1 L41.0,155.0 L41.7,151.9 L46.3,150.6 L50.5,150.2 L52.5,151.4 L57.7,153.4 L62.8,154.0 L62.8,151.4 L65.9,151.2 L66.9,153.4 L71.1,153.2 L70.0,156.0 L67.5,156.5 L70.2,155.0 L75.9,155.5 L80.0,157.1 L87.2,158.1 L90.3,157.6 L95.5,159.1 L102.2,158.1 L104.2,154.5 L108.9,154.3 L113.5,155.0 L114.5,150.9 L111.2,149.5 L106.6,146.4 L105.0,142.8 L100.9,139.7 L97.8,136.6 L99.9,133.5 L98.3,131.0 L99.4,128.9 L100.4,125.8 L102.4,125.0 L99.9,122.7 L94.7,120.1 L90.6,117.4 L83.4,116.7 L76.7,116.5Z"/><path d="M133.3,111.4 L134.4,115.5 L134.9,118.6 L136.4,121.2 L135.9,124.3 L134.4,126.8 L133.9,128.4 L136.9,129.9 L139.8,132.5 L138.0,135.1 L135.4,137.6 L132.8,139.2 L129.7,141.3 L133.9,141.8 L134.7,143.3 L135.4,146.4 L133.9,149.0 L132.3,151.0 L125.5,152.4 L128.9,157.4 L133.6,160.1 L136.7,162.2 L135.6,163.7 L133.5,167.0 L133.8,169.5 L134.6,173.4"/><path d="M1.2,71.6 L1.9,76.2 L4.6,78.8 L10.3,79.3 L15.4,80.6 L17.0,81.4 L19.1,80.4 L23.2,80.6 L29.9,82.4 L31.9,85.5 L35.5,87.6 L37.6,90.1 L40.7,92.7 L42.7,94.3 L45.8,93.2 L48.9,93.5 L51.5,95.8 L51.0,97.9 L48.4,99.4 L47.9,101.0 L43.3,101.5 L39.1,102.5 L30.9,103.0 L25.7,104.0 L22.1,106.6 L19.1,107.6 L17.0,108.2 L15.4,106.1 L13.4,107.6 L9.3,108.2 L5.1,107.3 L1.0,108.4"/><path d="M66.3,68.6 L67.4,66.0 L72.0,63.5 L76.6,63.0 L78.5,62.4 L78.9,64.0 L82.3,64.5 L85.4,63.5 L88.0,60.4 L88.8,58.3 L90.5,58.3 L90.8,62.4 L89.0,65.5 L86.9,68.6 L84.9,71.2 L77.1,72.0 L73.5,72.2 L67.9,72.2 L66.3,70.7Z"/><path d="M88.2,52.9 L90.5,50.8 L93.3,51.8 L91.0,54.5 L89.0,54.5Z"/><path d="M92.1,102.3 L95.2,101.1 L99.9,101.9 L105.0,103.7 L104.0,104.7 L98.8,103.7 L94.7,102.9Z"/><path d="M80.3,141.3 L82.9,140.0 L86.5,140.4 L92.1,142.3 L96.3,144.9 L97.8,147.4 L97.3,149.5 L92.1,148.5 L87.0,145.6 L82.9,143.3Z"/><path d="M66.9,170.4 L69.2,170.2 L70.0,171.5 L69.5,172.8 L67.5,172.5Z"/><path d="M70.0,171.5 L71.6,171.5"/><path d="M141.3,188.8 L142.3,187.5 L143.6,188.5 L142.6,189.9Z"/><path d="M24.2,1.2 L25.2,4.1 L26.6,5.4 L27.6,3.6 L27.3,1.2"/><path d="M44.3,6.5 L45.8,5.4 L47.9,6.4 L50.5,9.3 L56.1,10.1 L56.4,12.9 L59.2,13.4 L58.7,10.3 L61.6,9.5 L61.8,16.5 L59.2,18.5 L55.6,22.1 L50.5,25.2 L46.3,28.8 L46.9,27.3 L51.5,23.2 L56.1,19.6 L58.7,18.0"/><path d="M47.4,9.8 L45.3,12.4 L43.3,14.4 L43.3,16.5"/><path d="M44.3,6.5 L47.4,9.8 L51.0,10.8 L56.1,10.1"/><path d="M69.0,15.4 L69.0,13.1 L72.0,13.1 L74.7,14.4"/><path d="M85.3,21.1 L86.5,19.4 L90.6,19.6 L93.7,21.1 L97.8,22.1 L99.7,24.7 L97.8,25.2 L95.3,23.2 L90.6,22.7 L87.5,23.5 L85.5,22.1Z"/><path d="M124.2,37.7 L126.1,36.4 L128.3,37.4 L128.6,39.8 L131.7,40.3 L135.8,39.8 L137.9,41.3 L137.2,43.9 L134.3,44.2 L131.7,43.2 L130.2,41.3 L127.1,40.3 L125.0,39.1Z"/><path d="M140.3,43.4 L142.5,44.4 L144.6,44.4 L144.8,47.5 L143.1,47.0 L142.5,50.1 L143.8,51.1 L143.4,53.2 L141.3,53.7 L141.7,51.1"/><path d="M155.2,52.1 L155.4,55.2 L156.7,54.2"/><path d="M237.9,168.9 L238.9,167.4 L241.6,167.0 L241.9,168.2 L244.5,169.4 L238.3,169.4Z"/><path d="M113.5,42.4 L114.5,40.3 L116.6,41.8 L119.4,41.5 L121.7,41.1 L119.9,43.4 L116.8,43.6 L114.2,43.4Z"/><g fill="#000"><path d="M109.1,45.4 L111.6,45.2 L109.6,47.7Z"/><path d="M140.6,43.6 L144.6,44.4 L144.8,47.5 L143.1,47.0 L142.2,45.6Z"/><path d="M141.5,50.8 L143.6,51.0 L143.4,53.2 L141.5,53.5Z"/><path d="M124.4,37.7 L126.1,36.6 L128.1,37.5 L128.4,39.6 L127.1,40.1 L125.2,39.0Z"/></g><path d="M135.1,59.4H137.9M152.9,58.3H155"/><circle cx="268.1" cy="170.9" r="1.5" shape-rendering="geometricPrecision"/></g><rect x="595.5" y="32.5" width="280" height="278" fill="none" stroke="#000" stroke-width="1"/><rect x="596.5" y="9.5" width="278" height="23" fill="#fff" stroke="#000" stroke-width="1"/><rect x="63" y="338" width="9" height="8" fill="#B4FAAA"/><rect x="72" y="338" width="8" height="8" fill="#EED5B7"/><rect x="89" y="338" width="9" height="8" fill="#EED5B7"/><rect x="106" y="338" width="26" height="8" fill="#B4FAAA"/><rect x="132" y="338" width="9" height="8" fill="#EED5B7"/><rect x="141" y="338" width="9" height="8" fill="#78F573"/><rect x="150" y="338" width="17" height="8" fill="#B4FAAA"/><rect x="167" y="338" width="9" height="8" fill="#B4F0FA"/><rect x="176" y="338" width="26" height="8" fill="#B4FAAA"/><rect x="202" y="338" width="8" height="8" fill="#EED5B7"/><rect x="210" y="338" width="9" height="8" fill="#78F573"/><rect x="219" y="338" width="9" height="8" fill="#B4F0FA"/><rect x="228" y="338" width="17" height="8" fill="#78F573"/><rect x="245" y="338" width="17" height="8" fill="#B4FAAA"/><rect x="262" y="338" width="26" height="8" fill="#78F573"/><rect x="288" y="338" width="7" height="8" fill="#B4FAAA"/><rect x="63" y="346" width="17" height="9" fill="#B4FAAA"/><rect x="80" y="346" width="9" height="9" fill="#EED5B7"/><rect x="106" y="346" width="9" height="9" fill="#B4FAAA"/><rect x="115" y="346" width="17" height="9" fill="#78F573"/><rect x="132" y="346" width="9" height="9" fill="#B4FAAA"/><rect x="150" y="346" width="17" height="9" fill="#EED5B7"/><rect x="167" y="346" width="17" height="9" fill="#78F573"/><rect x="184" y="346" width="35" height="9" fill="#B4FAAA"/><rect x="219" y="346" width="35" height="9" fill="#78F573"/><rect x="254" y="346" width="17" height="9" fill="#B4FAAA"/><rect x="271" y="346" width="9" height="9" fill="#78F573"/><rect x="280" y="346" width="15" height="9" fill="#B4FAAA"/><rect x="16" y="355" width="12" height="8" fill="#B4FAAA"/><rect x="63" y="355" width="9" height="8" fill="#B4FAAA"/><rect x="98" y="355" width="8" height="8" fill="#B4FAAA"/><rect x="106" y="355" width="9" height="8" fill="#78F573"/><rect x="115" y="355" width="43" height="8" fill="#B4FAAA"/><rect x="167" y="355" width="9" height="8" fill="#EED5B7"/><rect x="184" y="355" width="18" height="8" fill="#B4FAAA"/><rect x="202" y="355" width="8" height="8" fill="#78F573"/><rect x="210" y="355" width="9" height="8" fill="#B4FAAA"/><rect x="219" y="355" width="9" height="8" fill="#78F573"/><rect x="228" y="355" width="8" height="8" fill="#B4FAAA"/><rect x="236" y="355" width="26" height="8" fill="#78F573"/><rect x="262" y="355" width="9" height="8" fill="#B4FAAA"/><rect x="271" y="355" width="9" height="8" fill="#78F573"/><rect x="280" y="355" width="8" height="8" fill="#B4FAAA"/><rect x="288" y="355" width="7" height="8" fill="#EED5B7"/><rect x="106" y="363" width="9" height="9" fill="#EED5B7"/><rect x="176" y="363" width="26" height="9" fill="#EED5B7"/><rect x="202" y="363" width="8" height="9" fill="#B4FAAA"/><rect x="210" y="363" width="70" height="9" fill="#78F573"/><rect x="280" y="363" width="8" height="9" fill="#B4F0FA"/><rect x="288" y="363" width="7" height="9" fill="#B4FAAA"/><rect x="106" y="372" width="26" height="9" fill="#B4FAAA"/><rect x="132" y="372" width="9" height="9" fill="#EED5B7"/><rect x="150" y="372" width="60" height="9" fill="#B4FAAA"/><rect x="210" y="372" width="9" height="9" fill="#78F573"/><rect x="219" y="372" width="26" height="9" fill="#B4F0FA"/><rect x="245" y="372" width="50" height="9" fill="#78F573"/><rect x="80" y="381" width="9" height="8" fill="#EED5B7"/><rect x="106" y="381" width="9" height="8" fill="#EED5B7"/><rect x="115" y="381" width="9" height="8" fill="#B4FAAA"/><rect x="150" y="381" width="8" height="8" fill="#B4FAAA"/><rect x="158" y="381" width="9" height="8" fill="#EED5B7"/><rect x="167" y="381" width="43" height="8" fill="#B4FAAA"/><rect x="210" y="381" width="18" height="8" fill="#78F573"/><rect x="228" y="381" width="17" height="8" fill="#B4F0FA"/><rect x="245" y="381" width="50" height="8" fill="#78F573"/><rect x="89" y="389" width="17" height="9" fill="#EED5B7"/><rect x="106" y="389" width="18" height="9" fill="#B4FAAA"/><rect x="176" y="389" width="8" height="9" fill="#EED5B7"/><rect x="193" y="389" width="9" height="9" fill="#EED5B7"/><rect x="202" y="389" width="43" height="9" fill="#78F573"/><rect x="245" y="389" width="9" height="9" fill="#B4FAAA"/><rect x="254" y="389" width="41" height="9" fill="#78F573"/><rect x="115" y="398" width="9" height="9" fill="#EED5B7"/><rect x="193" y="398" width="9" height="9" fill="#EED5B7"/><rect x="202" y="398" width="26" height="9" fill="#78F573"/><rect x="228" y="398" width="8" height="9" fill="#B4FAAA"/><rect x="236" y="398" width="9" height="9" fill="#78F573"/><rect x="245" y="398" width="17" height="9" fill="#B4FAAA"/><rect x="262" y="398" width="9" height="9" fill="#78F573"/><rect x="271" y="398" width="9" height="9" fill="#B4FAAA"/><rect x="280" y="398" width="15" height="9" fill="#78F573"/><rect x="16" y="407" width="4" height="8" fill="#FFE878"/><rect x="20" y="407" width="8" height="8" fill="#EED5B7"/><rect x="202" y="407" width="60" height="8" fill="#B4FAAA"/><rect x="262" y="407" width="9" height="8" fill="#78F573"/><rect x="271" y="407" width="17" height="8" fill="#B4FAAA"/><rect x="288" y="407" width="7" height="8" fill="#78F573"/><rect x="16" y="415" width="4" height="9" fill="#FFA000"/><rect x="20" y="415" width="8" height="9" fill="#78F573"/><rect x="28" y="415" width="9" height="9" fill="#B4FAAA"/><rect x="37" y="415" width="9" height="9" fill="#EED5B7"/><rect x="46" y="415" width="8" height="9" fill="#B4FAAA"/><rect x="202" y="415" width="8" height="9" fill="#78F573"/><rect x="210" y="415" width="9" height="9" fill="#B4FAAA"/><rect x="219" y="415" width="17" height="9" fill="#78F573"/><rect x="236" y="415" width="18" height="9" fill="#B4FAAA"/><rect x="262" y="415" width="9" height="9" fill="#B4FAAA"/><rect x="271" y="415" width="9" height="9" fill="#78F573"/><rect x="280" y="415" width="15" height="9" fill="#B4FAAA"/><rect x="16" y="424" width="4" height="9" fill="#FFA000"/><rect x="20" y="424" width="8" height="9" fill="#3C96F5"/><rect x="28" y="424" width="9" height="9" fill="#B4FAAA"/><rect x="37" y="424" width="9" height="9" fill="#B4F0FA"/><rect x="46" y="424" width="8" height="9" fill="#78F573"/><rect x="54" y="424" width="9" height="9" fill="#B4FAAA"/><rect x="202" y="424" width="26" height="9" fill="#B4FAAA"/><rect x="228" y="424" width="8" height="9" fill="#78F573"/><rect x="236" y="424" width="9" height="9" fill="#B4F0FA"/><rect x="271" y="424" width="9" height="9" fill="#78F573"/><rect x="280" y="424" width="8" height="9" fill="#B4FAAA"/><rect x="16" y="433" width="4" height="8" fill="#B4F0FA"/><rect x="20" y="433" width="8" height="8" fill="#78B9FA"/><rect x="28" y="433" width="9" height="8" fill="#FFE878"/><rect x="37" y="433" width="26" height="8" fill="#78F573"/><rect x="63" y="433" width="17" height="8" fill="#B4FAAA"/><rect x="106" y="433" width="9" height="8" fill="#EED5B7"/><rect x="158" y="433" width="26" height="8" fill="#EED5B7"/><rect x="210" y="433" width="9" height="8" fill="#78F573"/><rect x="219" y="433" width="9" height="8" fill="#B4F0FA"/><rect x="228" y="433" width="8" height="8" fill="#78F573"/><rect x="236" y="433" width="9" height="8" fill="#B4F0FA"/><rect x="245" y="433" width="9" height="8" fill="#EED5B7"/><rect x="271" y="433" width="9" height="8" fill="#B4FAAA"/><rect x="280" y="433" width="8" height="8" fill="#78F573"/><rect x="16" y="441" width="12" height="9" fill="#B4FAAA"/><rect x="28" y="441" width="18" height="9" fill="#78B9FA"/><rect x="46" y="441" width="8" height="9" fill="#B4F0FA"/><rect x="54" y="441" width="9" height="9" fill="#78F573"/><rect x="63" y="441" width="9" height="9" fill="#B4FAAA"/><rect x="80" y="441" width="9" height="9" fill="#B4F0FA"/><rect x="89" y="441" width="26" height="9" fill="#B4FAAA"/><rect x="184" y="441" width="9" height="9" fill="#78F573"/><rect x="193" y="441" width="9" height="9" fill="#B4FAAA"/><rect x="202" y="441" width="8" height="9" fill="#EED5B7"/><rect x="210" y="441" width="26" height="9" fill="#B4FAAA"/><rect x="236" y="441" width="9" height="9" fill="#B4F0FA"/><rect x="245" y="441" width="9" height="9" fill="#78B9FA"/><rect x="254" y="441" width="8" height="9" fill="#B4FAAA"/><rect x="280" y="441" width="8" height="9" fill="#B4FAAA"/><rect x="20" y="450" width="43" height="9" fill="#B4FAAA"/><rect x="63" y="450" width="9" height="9" fill="#78F573"/><rect x="72" y="450" width="8" height="9" fill="#B4FAAA"/><rect x="80" y="450" width="18" height="9" fill="#B4F0FA"/><rect x="98" y="450" width="17" height="9" fill="#B4FAAA"/><rect x="115" y="450" width="26" height="9" fill="#EED5B7"/><rect x="167" y="450" width="9" height="9" fill="#B4FAAA"/><rect x="176" y="450" width="8" height="9" fill="#B4F0FA"/><rect x="184" y="450" width="9" height="9" fill="#B4FAAA"/><rect x="193" y="450" width="9" height="9" fill="#78B9FA"/><rect x="202" y="450" width="17" height="9" fill="#B4FAAA"/><rect x="228" y="450" width="8" height="9" fill="#B4FAAA"/><rect x="236" y="450" width="9" height="9" fill="#EED5B7"/><rect x="245" y="450" width="9" height="9" fill="#78B9FA"/><rect x="254" y="450" width="8" height="9" fill="#B4F0FA"/><rect x="271" y="450" width="24" height="9" fill="#B4FAAA"/><rect x="37" y="459" width="35" height="8" fill="#B4FAAA"/><rect x="72" y="459" width="8" height="8" fill="#78F573"/><rect x="80" y="459" width="18" height="8" fill="#B4F0FA"/><rect x="98" y="459" width="8" height="8" fill="#B4FAAA"/><rect x="124" y="459" width="8" height="8" fill="#B4FAAA"/><rect x="132" y="459" width="9" height="8" fill="#B4F0FA"/><rect x="141" y="459" width="9" height="8" fill="#EED5B7"/><rect x="150" y="459" width="8" height="8" fill="#B4FAAA"/><rect x="158" y="459" width="9" height="8" fill="#78F573"/><rect x="167" y="459" width="9" height="8" fill="#1E6EEB"/><rect x="176" y="459" width="8" height="8" fill="#FFA000"/><rect x="184" y="459" width="18" height="8" fill="#B4F0FA"/><rect x="202" y="459" width="43" height="8" fill="#B4FAAA"/><rect x="245" y="459" width="17" height="8" fill="#B4F0FA"/><rect x="262" y="459" width="9" height="8" fill="#B4FAAA"/><rect x="288" y="459" width="7" height="8" fill="#EED5B7"/><rect x="37" y="467" width="43" height="9" fill="#B4FAAA"/><rect x="80" y="467" width="9" height="9" fill="#78F573"/><rect x="89" y="467" width="9" height="9" fill="#B4F0FA"/><rect x="98" y="467" width="8" height="9" fill="#78F573"/><rect x="124" y="467" width="8" height="9" fill="#B4FAAA"/><rect x="132" y="467" width="9" height="9" fill="#3C96F5"/><rect x="141" y="467" width="9" height="9" fill="#78B9FA"/><rect x="150" y="467" width="17" height="9" fill="#B4F0FA"/><rect x="167" y="467" width="17" height="9" fill="#FFA000"/><rect x="184" y="467" width="9" height="9" fill="#78B9FA"/><rect x="202" y="467" width="8" height="9" fill="#78F573"/><rect x="210" y="467" width="18" height="9" fill="#B4FAAA"/><rect x="228" y="467" width="17" height="9" fill="#B4F0FA"/><rect x="245" y="467" width="9" height="9" fill="#B4FAAA"/><rect x="254" y="467" width="8" height="9" fill="#B4F0FA"/><rect x="262" y="467" width="9" height="9" fill="#B4FAAA"/><rect x="89" y="476" width="17" height="9" fill="#B4FAAA"/><rect x="115" y="476" width="17" height="9" fill="#B4FAAA"/><rect x="132" y="476" width="9" height="9" fill="#78B9FA"/><rect x="141" y="476" width="9" height="9" fill="#3C96F5"/><rect x="150" y="476" width="8" height="9" fill="#FFA000"/><rect x="158" y="476" width="9" height="9" fill="#1E6EEB"/><rect x="167" y="476" width="17" height="9" fill="#FFA000"/><rect x="184" y="476" width="9" height="9" fill="#3C96F5"/><rect x="193" y="476" width="35" height="9" fill="#78F573"/><rect x="228" y="476" width="8" height="9" fill="#B4F0FA"/><rect x="236" y="476" width="9" height="9" fill="#3C96F5"/><rect x="245" y="476" width="9" height="9" fill="#B4F0FA"/><rect x="254" y="476" width="17" height="9" fill="#78F573"/><rect x="132" y="485" width="9" height="8" fill="#78B9FA"/><rect x="141" y="485" width="9" height="8" fill="#1E6EEB"/><rect x="150" y="485" width="8" height="8" fill="#FFE878"/><rect x="158" y="485" width="9" height="8" fill="#FF3200"/><rect x="167" y="485" width="9" height="8" fill="#FFA000"/><rect x="176" y="485" width="8" height="8" fill="#FFE878"/><rect x="184" y="485" width="18" height="8" fill="#1E6EEB"/><rect x="202" y="485" width="8" height="8" fill="#78F573"/><rect x="210" y="485" width="9" height="8" fill="#B4F0FA"/><rect x="219" y="485" width="9" height="8" fill="#78F573"/><rect x="228" y="485" width="8" height="8" fill="#B4F0FA"/><rect x="236" y="485" width="9" height="8" fill="#78B9FA"/><rect x="245" y="485" width="9" height="8" fill="#3C96F5"/><rect x="254" y="485" width="8" height="8" fill="#B4F0FA"/><rect x="262" y="485" width="9" height="8" fill="#78F573"/><rect x="271" y="485" width="9" height="8" fill="#EED5B7"/><rect x="37" y="493" width="9" height="9" fill="#EED5B7"/><rect x="124" y="493" width="8" height="9" fill="#B4FAAA"/><rect x="132" y="493" width="9" height="9" fill="#B4F0FA"/><rect x="141" y="493" width="9" height="9" fill="#1E6EEB"/><rect x="150" y="493" width="8" height="9" fill="#FFE878"/><rect x="158" y="493" width="9" height="9" fill="#FFA000"/><rect x="167" y="493" width="17" height="9" fill="#FFE878"/><rect x="184" y="493" width="18" height="9" fill="#1E6EEB"/><rect x="202" y="493" width="8" height="9" fill="#B4F0FA"/><rect x="210" y="493" width="9" height="9" fill="#78F573"/><rect x="219" y="493" width="9" height="9" fill="#EED5B7"/><rect x="228" y="493" width="17" height="9" fill="#B4F0FA"/><rect x="245" y="493" width="17" height="9" fill="#78B9FA"/><rect x="262" y="493" width="18" height="9" fill="#B4F0FA"/><rect x="280" y="493" width="15" height="9" fill="#B4FAAA"/><rect x="72" y="502" width="8" height="9" fill="#78F573"/><rect x="132" y="502" width="18" height="9" fill="#B4FAAA"/><rect x="150" y="502" width="8" height="9" fill="#3C96F5"/><rect x="158" y="502" width="9" height="9" fill="#FFE878"/><rect x="167" y="502" width="9" height="9" fill="#1E6EEB"/><rect x="176" y="502" width="17" height="9" fill="#3C96F5"/><rect x="193" y="502" width="9" height="9" fill="#1E6EEB"/><rect x="202" y="502" width="8" height="9" fill="#B4F0FA"/><rect x="210" y="502" width="9" height="9" fill="#78F573"/><rect x="219" y="502" width="9" height="9" fill="#B4FAAA"/><rect x="228" y="502" width="8" height="9" fill="#78F573"/><rect x="236" y="502" width="9" height="9" fill="#B4F0FA"/><rect x="245" y="502" width="9" height="9" fill="#78B9FA"/><rect x="254" y="502" width="26" height="9" fill="#B4F0FA"/><rect x="280" y="502" width="8" height="9" fill="#78F573"/><rect x="288" y="502" width="7" height="9" fill="#B4FAAA"/><rect x="80" y="511" width="9" height="8" fill="#B4FAAA"/><rect x="150" y="511" width="8" height="8" fill="#B4FAAA"/><rect x="158" y="511" width="9" height="8" fill="#78B9FA"/><rect x="167" y="511" width="9" height="8" fill="#78F573"/><rect x="176" y="511" width="8" height="8" fill="#B4FAAA"/><rect x="184" y="511" width="9" height="8" fill="#78F573"/><rect x="193" y="511" width="9" height="8" fill="#78B9FA"/><rect x="202" y="511" width="8" height="8" fill="#B4F0FA"/><rect x="210" y="511" width="9" height="8" fill="#B4FAAA"/><rect x="228" y="511" width="8" height="8" fill="#78F573"/><rect x="236" y="511" width="9" height="8" fill="#B4F0FA"/><rect x="245" y="511" width="9" height="8" fill="#78B9FA"/><rect x="254" y="511" width="8" height="8" fill="#B4F0FA"/><rect x="262" y="511" width="9" height="8" fill="#78B9FA"/><rect x="271" y="511" width="17" height="8" fill="#3C96F5"/><rect x="288" y="511" width="7" height="8" fill="#78B9FA"/><rect x="158" y="519" width="9" height="9" fill="#B4F0FA"/><rect x="167" y="519" width="17" height="9" fill="#B4FAAA"/><rect x="193" y="519" width="26" height="9" fill="#78F573"/><rect x="219" y="519" width="9" height="9" fill="#B4FAAA"/><rect x="228" y="519" width="8" height="9" fill="#78F573"/><rect x="236" y="519" width="18" height="9" fill="#B4F0FA"/><rect x="254" y="519" width="8" height="9" fill="#78F573"/><rect x="262" y="519" width="9" height="9" fill="#B4F0FA"/><rect x="271" y="519" width="17" height="9" fill="#3C96F5"/><rect x="288" y="519" width="7" height="9" fill="#FFE878"/><rect x="150" y="528" width="8" height="9" fill="#EED5B7"/><rect x="158" y="528" width="9" height="9" fill="#B4F0FA"/><rect x="167" y="528" width="9" height="9" fill="#B4FAAA"/><rect x="193" y="528" width="9" height="9" fill="#B4FAAA"/><rect x="202" y="528" width="17" height="9" fill="#78F573"/><rect x="219" y="528" width="17" height="9" fill="#B4FAAA"/><rect x="236" y="528" width="9" height="9" fill="#78F573"/><rect x="245" y="528" width="9" height="9" fill="#B4F0FA"/><rect x="254" y="528" width="17" height="9" fill="#78F573"/><rect x="271" y="528" width="17" height="9" fill="#78B9FA"/><rect x="288" y="528" width="7" height="9" fill="#1E6EEB"/><rect x="158" y="537" width="18" height="8" fill="#B4FAAA"/><rect x="193" y="537" width="9" height="8" fill="#EED5B7"/><rect x="202" y="537" width="8" height="8" fill="#B4FAAA"/><rect x="210" y="537" width="9" height="8" fill="#78F573"/><rect x="219" y="537" width="9" height="8" fill="#B4FAAA"/><rect x="228" y="537" width="8" height="8" fill="#EED5B7"/><rect x="236" y="537" width="9" height="8" fill="#B4FAAA"/><rect x="245" y="537" width="9" height="8" fill="#B4F0FA"/><rect x="254" y="537" width="17" height="8" fill="#78F573"/><rect x="271" y="537" width="24" height="8" fill="#B4F0FA"/><rect x="202" y="545" width="8" height="9" fill="#EED5B7"/><rect x="210" y="545" width="9" height="9" fill="#B4FAAA"/><rect x="219" y="545" width="9" height="9" fill="#EED5B7"/><rect x="236" y="545" width="18" height="9" fill="#B4FAAA"/><rect x="254" y="545" width="17" height="9" fill="#78F573"/><rect x="271" y="545" width="17" height="9" fill="#B4FAAA"/><rect x="288" y="545" width="7" height="9" fill="#B4F0FA"/><rect x="210" y="554" width="9" height="9" fill="#B4FAAA"/><rect x="219" y="554" width="9" height="9" fill="#EED5B7"/><rect x="254" y="554" width="8" height="9" fill="#B4FAAA"/><rect x="262" y="554" width="9" height="9" fill="#78F573"/><rect x="271" y="554" width="9" height="9" fill="#B4FAAA"/><rect x="288" y="554" width="7" height="9" fill="#B4FAAA"/><rect x="254" y="563" width="26" height="8" fill="#B4FAAA"/><g transform="translate(15,337)" fill="none" stroke="#000" stroke-width="1" shape-rendering="crispEdges" stroke-linejoin="round" stroke-linecap="round"><path d="M75.1,113.4 L75.7,110.9 L79.8,108.8 L85.4,106.2 L90.6,107.3 L96.8,106.8 L100.9,107.8 L105.5,109.3 L111.2,110.4 L114.3,112.4 L114.8,114.5 L115.8,112.9 L120.5,113.4 L124.1,115.0 L126.1,114.5 L127.7,113.2 L129.5,114.5 L129.7,116.3 L131.8,115.5 L133.3,111.4 L135.9,108.8 L140.0,107.5 L144.2,107.5 L148.3,108.8 L152.4,109.8 L155.0,109.5 L158.1,107.4 L161.7,107.9 L165.3,107.2 L168.4,110.0 L172.0,111.0 L172.5,112.4 L180.7,112.4 L183.3,115.1 L185.9,117.5 L190.5,117.5 L193.1,115.5 L196.7,115.5 L199.3,118.2 L199.5,122.9 L200.8,126.0 L203.4,129.3 L208.6,129.3 L210.6,128.5 L216.8,128.5 L219.4,129.0 L220.9,127.5 L222.5,127.5 L223.0,129.0 L224.5,129.6 L222.8,132.1 L216.8,132.3 L211.1,132.3 L208.6,131.6 L207.7,134.2 L207.5,136.3 L213.7,136.3 L214.2,135.2 L215.8,135.4 L216.8,137.1 L220.9,137.8 L225.0,138.3 L226.1,139.1 L228.6,138.3 L233.3,138.3 L237.4,139.9 L240.5,142.4 L244.6,145.5 L248.7,148.6 L252.3,151.2 L253.9,152.7 L253.9,153.6 L251.1,157.7 L248.5,161.3 L244.4,161.0 L243.0,163.9 L241.8,166.5 L238.7,167.0 L238.2,166.0 L237.2,162.9 L234.1,160.0 L231.0,159.3 L229.4,161.0 L225.3,160.6 L222.2,158.7 L218.6,158.2 L218.1,159.3 L209.9,159.3 L207.8,158.2 L203.2,158.2 L198.5,157.5 L194.9,159.3 L192.9,162.4 L190.7,165.1 L179.9,165.1 L177.3,167.2 L175.6,165.9 L174.7,159.8 L171.1,159.3 L169.6,162.1 L165.5,162.4 L162.4,165.1 L160.3,163.4 L157.7,163.6 L157.4,166.2 L158.3,170.0 L154.7,174.9 L150.0,180.1 L148.0,182.6 L145.9,186.8 L144.4,187.3 L142.3,182.3 L136.6,182.1 L137.1,179.6 L138.2,179.0 L137.1,175.1 L134.6,173.4 L131.5,169.9 L127.4,166.8 L123.3,165.3 L115.0,165.3 L106.8,165.6 L106.3,167.9 L99.6,167.4 L99.1,168.9 L96.5,169.4 L91.3,168.4 L84.1,166.6 L79.0,165.8 L78.0,164.6 L75.9,165.3 L71.8,165.8 L66.1,165.8 L63.0,168.4 L61.0,171.0 L63.4,171.5 L63.4,173.5 L60.3,173.3 L58.3,170.0 L56.6,167.9 L53.6,165.6 L49.4,163.7 L45.3,163.5 L41.2,162.5 L39.6,160.1 L39.6,158.1 L41.0,155.0 L41.7,151.9 L46.3,150.6 L50.5,150.2 L52.5,151.4 L57.7,153.4 L62.8,154.0 L62.8,151.4 L65.9,151.2 L66.9,153.4 L71.1,153.2 L70.0,156.0 L67.5,156.5 L70.2,155.0 L75.9,155.5 L80.0,157.1 L87.2,158.1 L90.3,157.6 L95.5,159.1 L102.2,158.1 L104.2,154.5 L108.9,154.3 L113.5,155.0 L114.5,150.9 L111.2,149.5 L106.6,146.4 L105.0,142.8 L100.9,139.7 L97.8,136.6 L99.9,133.5 L98.3,131.0 L99.4,128.9 L100.4,125.8 L102.4,125.0 L99.9,122.7 L94.7,120.1 L90.6,117.4 L83.4,116.7 L76.7,116.5Z"/><path d="M133.3,111.4 L134.4,115.5 L134.9,118.6 L136.4,121.2 L135.9,124.3 L134.4,126.8 L133.9,128.4 L136.9,129.9 L139.8,132.5 L138.0,135.1 L135.4,137.6 L132.8,139.2 L129.7,141.3 L133.9,141.8 L134.7,143.3 L135.4,146.4 L133.9,149.0 L132.3,151.0 L125.5,152.4 L128.9,157.4 L133.6,160.1 L136.7,162.2 L135.6,163.7 L133.5,167.0 L133.8,169.5 L134.6,173.4"/><path d="M1.2,71.6 L1.9,76.2 L4.6,78.8 L10.3,79.3 L15.4,80.6 L17.0,81.4 L19.1,80.4 L23.2,80.6 L29.9,82.4 L31.9,85.5 L35.5,87.6 L37.6,90.1 L40.7,92.7 L42.7,94.3 L45.8,93.2 L48.9,93.5 L51.5,95.8 L51.0,97.9 L48.4,99.4 L47.9,101.0 L43.3,101.5 L39.1,102.5 L30.9,103.0 L25.7,104.0 L22.1,106.6 L19.1,107.6 L17.0,108.2 L15.4,106.1 L13.4,107.6 L9.3,108.2 L5.1,107.3 L1.0,108.4"/><path d="M66.3,68.6 L67.4,66.0 L72.0,63.5 L76.6,63.0 L78.5,62.4 L78.9,64.0 L82.3,64.5 L85.4,63.5 L88.0,60.4 L88.8,58.3 L90.5,58.3 L90.8,62.4 L89.0,65.5 L86.9,68.6 L84.9,71.2 L77.1,72.0 L73.5,72.2 L67.9,72.2 L66.3,70.7Z"/><path d="M88.2,52.9 L90.5,50.8 L93.3,51.8 L91.0,54.5 L89.0,54.5Z"/><path d="M92.1,102.3 L95.2,101.1 L99.9,101.9 L105.0,103.7 L104.0,104.7 L98.8,103.7 L94.7,102.9Z"/><path d="M80.3,141.3 L82.9,140.0 L86.5,140.4 L92.1,142.3 L96.3,144.9 L97.8,147.4 L97.3,149.5 L92.1,148.5 L87.0,145.6 L82.9,143.3Z"/><path d="M66.9,170.4 L69.2,170.2 L70.0,171.5 L69.5,172.8 L67.5,172.5Z"/><path d="M70.0,171.5 L71.6,171.5"/><path d="M141.3,188.8 L142.3,187.5 L143.6,188.5 L142.6,189.9Z"/><path d="M24.2,1.2 L25.2,4.1 L26.6,5.4 L27.6,3.6 L27.3,1.2"/><path d="M44.3,6.5 L45.8,5.4 L47.9,6.4 L50.5,9.3 L56.1,10.1 L56.4,12.9 L59.2,13.4 L58.7,10.3 L61.6,9.5 L61.8,16.5 L59.2,18.5 L55.6,22.1 L50.5,25.2 L46.3,28.8 L46.9,27.3 L51.5,23.2 L56.1,19.6 L58.7,18.0"/><path d="M47.4,9.8 L45.3,12.4 L43.3,14.4 L43.3,16.5"/><path d="M44.3,6.5 L47.4,9.8 L51.0,10.8 L56.1,10.1"/><path d="M69.0,15.4 L69.0,13.1 L72.0,13.1 L74.7,14.4"/><path d="M85.3,21.1 L86.5,19.4 L90.6,19.6 L93.7,21.1 L97.8,22.1 L99.7,24.7 L97.8,25.2 L95.3,23.2 L90.6,22.7 L87.5,23.5 L85.5,22.1Z"/><path d="M124.2,37.7 L126.1,36.4 L128.3,37.4 L128.6,39.8 L131.7,40.3 L135.8,39.8 L137.9,41.3 L137.2,43.9 L134.3,44.2 L131.7,43.2 L130.2,41.3 L127.1,40.3 L125.0,39.1Z"/><path d="M140.3,43.4 L142.5,44.4 L144.6,44.4 L144.8,47.5 L143.1,47.0 L142.5,50.1 L143.8,51.1 L143.4,53.2 L141.3,53.7 L141.7,51.1"/><path d="M155.2,52.1 L155.4,55.2 L156.7,54.2"/><path d="M237.9,168.9 L238.9,167.4 L241.6,167.0 L241.9,168.2 L244.5,169.4 L238.3,169.4Z"/><path d="M113.5,42.4 L114.5,40.3 L116.6,41.8 L119.4,41.5 L121.7,41.1 L119.9,43.4 L116.8,43.6 L114.2,43.4Z"/><g fill="#000"><path d="M109.1,45.4 L111.6,45.2 L109.6,47.7Z"/><path d="M140.6,43.6 L144.6,44.4 L144.8,47.5 L143.1,47.0 L142.2,45.6Z"/><path d="M141.5,50.8 L143.6,51.0 L143.4,53.2 L141.5,53.5Z"/><path d="M124.4,37.7 L126.1,36.6 L128.1,37.5 L128.4,39.6 L127.1,40.1 L125.2,39.0Z"/></g><path d="M135.1,59.4H137.9M152.9,58.3H155"/><circle cx="268.1" cy="170.9" r="1.5" shape-rendering="geometricPrecision"/></g><rect x="15.5" y="337.5" width="280" height="278" fill="none" stroke="#000" stroke-width="1"/><rect x="16.5" y="314.5" width="278" height="23" fill="#fff" stroke="#000" stroke-width="1"/><rect x="306" y="338" width="12" height="8" fill="#78F573"/><rect x="318" y="338" width="18" height="8" fill="#B4F0FA"/><rect x="336" y="338" width="8" height="8" fill="#78F573"/><rect x="344" y="338" width="44" height="8" fill="#B4FAAA"/><rect x="405" y="338" width="9" height="8" fill="#78F573"/><rect x="414" y="338" width="17" height="8" fill="#B4F0FA"/><rect x="431" y="338" width="9" height="8" fill="#78B9FA"/><rect x="440" y="338" width="17" height="8" fill="#B4F0FA"/><rect x="457" y="338" width="17" height="8" fill="#78B9FA"/><rect x="474" y="338" width="35" height="8" fill="#1E6EEB"/><rect x="509" y="338" width="26" height="8" fill="#FFE878"/><rect x="535" y="338" width="9" height="8" fill="#1E6EEB"/><rect x="544" y="338" width="8" height="8" fill="#78B9FA"/><rect x="552" y="338" width="26" height="8" fill="#B4F0FA"/><rect x="578" y="338" width="7" height="8" fill="#78F573"/><rect x="306" y="346" width="12" height="9" fill="#B4FAAA"/><rect x="318" y="346" width="18" height="9" fill="#78F573"/><rect x="336" y="346" width="17" height="9" fill="#B4FAAA"/><rect x="353" y="346" width="9" height="9" fill="#EED5B7"/><rect x="370" y="346" width="9" height="9" fill="#EED5B7"/><rect x="379" y="346" width="9" height="9" fill="#B4FAAA"/><rect x="405" y="346" width="17" height="9" fill="#B4FAAA"/><rect x="422" y="346" width="9" height="9" fill="#78F573"/><rect x="431" y="346" width="17" height="9" fill="#B4F0FA"/><rect x="448" y="346" width="44" height="9" fill="#78B9FA"/><rect x="492" y="346" width="26" height="9" fill="#1E6EEB"/><rect x="518" y="346" width="8" height="9" fill="#3C96F5"/><rect x="526" y="346" width="18" height="9" fill="#78B9FA"/><rect x="544" y="346" width="17" height="9" fill="#B4F0FA"/><rect x="561" y="346" width="24" height="9" fill="#78F573"/><rect x="306" y="355" width="4" height="8" fill="#EED5B7"/><rect x="310" y="355" width="26" height="8" fill="#B4FAAA"/><rect x="336" y="355" width="8" height="8" fill="#EED5B7"/><rect x="362" y="355" width="8" height="8" fill="#EED5B7"/><rect x="414" y="355" width="17" height="8" fill="#B4FAAA"/><rect x="431" y="355" width="9" height="8" fill="#78F573"/><rect x="440" y="355" width="17" height="8" fill="#78B9FA"/><rect x="457" y="355" width="9" height="8" fill="#B4F0FA"/><rect x="466" y="355" width="8" height="8" fill="#B4FAAA"/><rect x="474" y="355" width="9" height="8" fill="#78F573"/><rect x="483" y="355" width="9" height="8" fill="#B4F0FA"/><rect x="492" y="355" width="8" height="8" fill="#78B9FA"/><rect x="500" y="355" width="18" height="8" fill="#1E6EEB"/><rect x="518" y="355" width="8" height="8" fill="#78B9FA"/><rect x="526" y="355" width="26" height="8" fill="#B4F0FA"/><rect x="552" y="355" width="18" height="8" fill="#78F573"/><rect x="570" y="355" width="8" height="8" fill="#B4FAAA"/><rect x="353" y="363" width="9" height="9" fill="#EED5B7"/><rect x="405" y="363" width="9" height="9" fill="#EED5B7"/><rect x="414" y="363" width="26" height="9" fill="#B4FAAA"/><rect x="440" y="363" width="8" height="9" fill="#78F573"/><rect x="448" y="363" width="9" height="9" fill="#B4FAAA"/><rect x="457" y="363" width="9" height="9" fill="#EED5B7"/><rect x="466" y="363" width="8" height="9" fill="#B4FAAA"/><rect x="474" y="363" width="9" height="9" fill="#EED5B7"/><rect x="483" y="363" width="17" height="9" fill="#B4FAAA"/><rect x="500" y="363" width="9" height="9" fill="#78B9FA"/><rect x="509" y="363" width="9" height="9" fill="#1E6EEB"/><rect x="518" y="363" width="8" height="9" fill="#78B9FA"/><rect x="526" y="363" width="9" height="9" fill="#B4F0FA"/><rect x="535" y="363" width="26" height="9" fill="#78F573"/><rect x="561" y="363" width="17" height="9" fill="#B4FAAA"/><rect x="344" y="372" width="9" height="9" fill="#EED5B7"/><rect x="405" y="372" width="9" height="9" fill="#EED5B7"/><rect x="422" y="372" width="18" height="9" fill="#B4FAAA"/><rect x="440" y="372" width="8" height="9" fill="#78F573"/><rect x="448" y="372" width="18" height="9" fill="#B4FAAA"/><rect x="466" y="372" width="8" height="9" fill="#EED5B7"/><rect x="492" y="372" width="8" height="9" fill="#B4F0FA"/><rect x="500" y="372" width="26" height="9" fill="#78B9FA"/><rect x="526" y="372" width="9" height="9" fill="#B4F0FA"/><rect x="535" y="372" width="35" height="9" fill="#B4FAAA"/><rect x="570" y="372" width="8" height="9" fill="#EED5B7"/><rect x="306" y="381" width="12" height="8" fill="#EED5B7"/><rect x="431" y="381" width="9" height="8" fill="#B4FAAA"/><rect x="457" y="381" width="9" height="8" fill="#EED5B7"/><rect x="466" y="381" width="8" height="8" fill="#B4FAAA"/><rect x="474" y="381" width="9" height="8" fill="#EED5B7"/><rect x="483" y="381" width="9" height="8" fill="#78F573"/><rect x="492" y="381" width="8" height="8" fill="#B4F0FA"/><rect x="500" y="381" width="9" height="8" fill="#FFA000"/><rect x="509" y="381" width="9" height="8" fill="#78B9FA"/><rect x="518" y="381" width="17" height="8" fill="#B4F0FA"/><rect x="535" y="381" width="35" height="8" fill="#B4FAAA"/><rect x="431" y="389" width="9" height="9" fill="#B4FAAA"/><rect x="466" y="389" width="8" height="9" fill="#B4F0FA"/><rect x="474" y="389" width="9" height="9" fill="#78F573"/><rect x="492" y="389" width="8" height="9" fill="#78F573"/><rect x="500" y="389" width="9" height="9" fill="#1E6EEB"/><rect x="509" y="389" width="9" height="9" fill="#FFE878"/><rect x="518" y="389" width="8" height="9" fill="#78B9FA"/><rect x="526" y="389" width="9" height="9" fill="#B4F0FA"/><rect x="535" y="389" width="9" height="9" fill="#78F573"/><rect x="544" y="389" width="17" height="9" fill="#B4FAAA"/><rect x="561" y="389" width="9" height="9" fill="#EED5B7"/><rect x="306" y="398" width="4" height="9" fill="#B4F0FA"/><rect x="310" y="398" width="8" height="9" fill="#B4FAAA"/><rect x="466" y="398" width="8" height="9" fill="#EED5B7"/><rect x="492" y="398" width="8" height="9" fill="#B4FAAA"/><rect x="500" y="398" width="9" height="9" fill="#B4F0FA"/><rect x="509" y="398" width="9" height="9" fill="#3C96F5"/><rect x="518" y="398" width="8" height="9" fill="#FFE878"/><rect x="526" y="398" width="9" height="9" fill="#3C96F5"/><rect x="535" y="398" width="9" height="9" fill="#B4F0FA"/><rect x="544" y="398" width="8" height="9" fill="#B4FAAA"/><rect x="306" y="407" width="12" height="8" fill="#FFE878"/><rect x="318" y="407" width="9" height="8" fill="#1E6EEB"/><rect x="327" y="407" width="9" height="8" fill="#B4FAAA"/><rect x="336" y="407" width="17" height="8" fill="#EED5B7"/><rect x="492" y="407" width="8" height="8" fill="#B4FAAA"/><rect x="500" y="407" width="18" height="8" fill="#B4F0FA"/><rect x="518" y="407" width="17" height="8" fill="#1E6EEB"/><rect x="535" y="407" width="9" height="8" fill="#78B9FA"/><rect x="544" y="407" width="8" height="8" fill="#B4FAAA"/><rect x="306" y="415" width="12" height="9" fill="#FFE878"/><rect x="318" y="415" width="9" height="9" fill="#FFA000"/><rect x="327" y="415" width="9" height="9" fill="#FFE878"/><rect x="336" y="415" width="17" height="9" fill="#78F573"/><rect x="396" y="415" width="9" height="9" fill="#B4FAAA"/><rect x="466" y="415" width="8" height="9" fill="#EED5B7"/><rect x="474" y="415" width="9" height="9" fill="#B4FAAA"/><rect x="483" y="415" width="9" height="9" fill="#EED5B7"/><rect x="492" y="415" width="26" height="9" fill="#B4F0FA"/><rect x="518" y="415" width="8" height="9" fill="#78B9FA"/><rect x="526" y="415" width="9" height="9" fill="#1E6EEB"/><rect x="535" y="415" width="9" height="9" fill="#78B9FA"/><rect x="544" y="415" width="8" height="9" fill="#B4F0FA"/><rect x="552" y="415" width="9" height="9" fill="#B4FAAA"/><rect x="306" y="424" width="12" height="9" fill="#3C96F5"/><rect x="318" y="424" width="18" height="9" fill="#FFE878"/><rect x="336" y="424" width="8" height="9" fill="#78B9FA"/><rect x="344" y="424" width="9" height="9" fill="#B4F0FA"/><rect x="353" y="424" width="9" height="9" fill="#EED5B7"/><rect x="388" y="424" width="8" height="9" fill="#B4FAAA"/><rect x="396" y="424" width="9" height="9" fill="#78F573"/><rect x="422" y="424" width="9" height="9" fill="#EED5B7"/><rect x="431" y="424" width="17" height="9" fill="#78F573"/><rect x="466" y="424" width="8" height="9" fill="#B4FAAA"/><rect x="474" y="424" width="18" height="9" fill="#EED5B7"/><rect x="492" y="424" width="8" height="9" fill="#78F573"/><rect x="500" y="424" width="9" height="9" fill="#3C96F5"/><rect x="509" y="424" width="9" height="9" fill="#B4F0FA"/><rect x="518" y="424" width="8" height="9" fill="#78B9FA"/><rect x="526" y="424" width="9" height="9" fill="#1E6EEB"/><rect x="535" y="424" width="9" height="9" fill="#FFE878"/><rect x="544" y="424" width="8" height="9" fill="#78B9FA"/><rect x="552" y="424" width="9" height="9" fill="#B4F0FA"/><rect x="561" y="424" width="9" height="9" fill="#B4FAAA"/><rect x="306" y="433" width="30" height="8" fill="#78F573"/><rect x="336" y="433" width="8" height="8" fill="#78B9FA"/><rect x="344" y="433" width="9" height="8" fill="#B4FAAA"/><rect x="353" y="433" width="9" height="8" fill="#EED5B7"/><rect x="414" y="433" width="17" height="8" fill="#78F573"/><rect x="431" y="433" width="9" height="8" fill="#3C96F5"/><rect x="440" y="433" width="8" height="8" fill="#B4F0FA"/><rect x="448" y="433" width="9" height="8" fill="#78F573"/><rect x="457" y="433" width="9" height="8" fill="#B4FAAA"/><rect x="483" y="433" width="9" height="8" fill="#EED5B7"/><rect x="492" y="433" width="8" height="8" fill="#B4FAAA"/><rect x="500" y="433" width="9" height="8" fill="#B4F0FA"/><rect x="509" y="433" width="9" height="8" fill="#78B9FA"/><rect x="518" y="433" width="17" height="8" fill="#3C96F5"/><rect x="535" y="433" width="9" height="8" fill="#FFE878"/><rect x="544" y="433" width="8" height="8" fill="#1E6EEB"/><rect x="552" y="433" width="9" height="8" fill="#78B9FA"/><rect x="561" y="433" width="9" height="8" fill="#78F573"/><rect x="310" y="441" width="8" height="9" fill="#B4FAAA"/><rect x="370" y="441" width="9" height="9" fill="#B4FAAA"/><rect x="379" y="441" width="17" height="9" fill="#78F573"/><rect x="396" y="441" width="9" height="9" fill="#B4FAAA"/><rect x="405" y="441" width="26" height="9" fill="#78F573"/><rect x="431" y="441" width="26" height="9" fill="#B4F0FA"/><rect x="457" y="441" width="9" height="9" fill="#78B9FA"/><rect x="466" y="441" width="8" height="9" fill="#78F573"/><rect x="474" y="441" width="9" height="9" fill="#B4FAAA"/><rect x="509" y="441" width="9" height="9" fill="#B4F0FA"/><rect x="518" y="441" width="8" height="9" fill="#78B9FA"/><rect x="526" y="441" width="9" height="9" fill="#1E6EEB"/><rect x="535" y="441" width="9" height="9" fill="#FFE878"/><rect x="544" y="441" width="8" height="9" fill="#1E6EEB"/><rect x="552" y="441" width="9" height="9" fill="#3C96F5"/><rect x="561" y="441" width="9" height="9" fill="#78B9FA"/><rect x="379" y="450" width="26" height="9" fill="#B4FAAA"/><rect x="405" y="450" width="9" height="9" fill="#B4F0FA"/><rect x="414" y="450" width="17" height="9" fill="#78B9FA"/><rect x="431" y="450" width="26" height="9" fill="#B4F0FA"/><rect x="457" y="450" width="9" height="9" fill="#78B9FA"/><rect x="466" y="450" width="8" height="9" fill="#B4F0FA"/><rect x="474" y="450" width="9" height="9" fill="#78F573"/><rect x="509" y="450" width="9" height="9" fill="#B4FAAA"/><rect x="518" y="450" width="8" height="9" fill="#B4F0FA"/><rect x="526" y="450" width="9" height="9" fill="#FFA000"/><rect x="535" y="450" width="9" height="9" fill="#FFE878"/><rect x="544" y="450" width="17" height="9" fill="#3C96F5"/><rect x="561" y="450" width="9" height="9" fill="#78B9FA"/><rect x="570" y="450" width="8" height="9" fill="#EED5B7"/><rect x="336" y="459" width="17" height="8" fill="#B4FAAA"/><rect x="353" y="459" width="9" height="8" fill="#B4F0FA"/><rect x="362" y="459" width="8" height="8" fill="#B4FAAA"/><rect x="379" y="459" width="9" height="8" fill="#EED5B7"/><rect x="388" y="459" width="8" height="8" fill="#78B9FA"/><rect x="396" y="459" width="9" height="8" fill="#B4FAAA"/><rect x="405" y="459" width="9" height="8" fill="#78F573"/><rect x="414" y="459" width="17" height="8" fill="#78B9FA"/><rect x="431" y="459" width="9" height="8" fill="#B4F0FA"/><rect x="440" y="459" width="8" height="8" fill="#78F573"/><rect x="448" y="459" width="35" height="8" fill="#B4F0FA"/><rect x="483" y="459" width="17" height="8" fill="#EED5B7"/><rect x="500" y="459" width="18" height="8" fill="#B4FAAA"/><rect x="518" y="459" width="8" height="8" fill="#B4F0FA"/><rect x="526" y="459" width="18" height="8" fill="#FFE878"/><rect x="544" y="459" width="26" height="8" fill="#78B9FA"/><rect x="570" y="459" width="8" height="8" fill="#B4FAAA"/><rect x="578" y="459" width="7" height="8" fill="#EED5B7"/><rect x="353" y="467" width="17" height="9" fill="#B4FAAA"/><rect x="379" y="467" width="17" height="9" fill="#78F573"/><rect x="396" y="467" width="9" height="9" fill="#B4FAAA"/><rect x="405" y="467" width="9" height="9" fill="#B4F0FA"/><rect x="414" y="467" width="17" height="9" fill="#3C96F5"/><rect x="431" y="467" width="9" height="9" fill="#B4F0FA"/><rect x="440" y="467" width="8" height="9" fill="#78F573"/><rect x="448" y="467" width="26" height="9" fill="#B4F0FA"/><rect x="474" y="467" width="9" height="9" fill="#78F573"/><rect x="492" y="467" width="17" height="9" fill="#B4FAAA"/><rect x="509" y="467" width="17" height="9" fill="#78F573"/><rect x="526" y="467" width="9" height="9" fill="#78B9FA"/><rect x="535" y="467" width="9" height="9" fill="#FFA000"/><rect x="544" y="467" width="8" height="9" fill="#3C96F5"/><rect x="552" y="467" width="18" height="9" fill="#B4F0FA"/><rect x="570" y="467" width="15" height="9" fill="#78F573"/><rect x="353" y="476" width="9" height="9" fill="#B4FAAA"/><rect x="370" y="476" width="18" height="9" fill="#78F573"/><rect x="388" y="476" width="26" height="9" fill="#B4FAAA"/><rect x="414" y="476" width="8" height="9" fill="#B4F0FA"/><rect x="422" y="476" width="9" height="9" fill="#78B9FA"/><rect x="431" y="476" width="17" height="9" fill="#B4F0FA"/><rect x="457" y="476" width="26" height="9" fill="#78F573"/><rect x="483" y="476" width="17" height="9" fill="#B4FAAA"/><rect x="500" y="476" width="26" height="9" fill="#B4F0FA"/><rect x="526" y="476" width="9" height="9" fill="#78B9FA"/><rect x="535" y="476" width="9" height="9" fill="#FFE878"/><rect x="544" y="476" width="8" height="9" fill="#FFA000"/><rect x="552" y="476" width="9" height="9" fill="#78B9FA"/><rect x="561" y="476" width="17" height="9" fill="#78F573"/><rect x="578" y="476" width="7" height="9" fill="#B4FAAA"/><rect x="344" y="485" width="44" height="8" fill="#B4FAAA"/><rect x="422" y="485" width="18" height="8" fill="#78F573"/><rect x="440" y="485" width="17" height="8" fill="#B4FAAA"/><rect x="466" y="485" width="17" height="8" fill="#B4FAAA"/><rect x="483" y="485" width="9" height="8" fill="#78F573"/><rect x="492" y="485" width="8" height="8" fill="#B4F0FA"/><rect x="500" y="485" width="18" height="8" fill="#78B9FA"/><rect x="518" y="485" width="8" height="8" fill="#B4F0FA"/><rect x="526" y="485" width="9" height="8" fill="#78B9FA"/><rect x="535" y="485" width="9" height="8" fill="#1E6EEB"/><rect x="544" y="485" width="8" height="8" fill="#FFA000"/><rect x="552" y="485" width="9" height="8" fill="#1E6EEB"/><rect x="561" y="485" width="9" height="8" fill="#B4F0FA"/><rect x="570" y="485" width="8" height="8" fill="#78F573"/><rect x="578" y="485" width="7" height="8" fill="#B4FAAA"/><rect x="344" y="493" width="18" height="9" fill="#B4FAAA"/><rect x="362" y="493" width="8" height="9" fill="#78F573"/><rect x="370" y="493" width="26" height="9" fill="#B4FAAA"/><rect x="396" y="493" width="9" height="9" fill="#78F573"/><rect x="405" y="493" width="9" height="9" fill="#B4FAAA"/><rect x="414" y="493" width="34" height="9" fill="#78F573"/><rect x="448" y="493" width="9" height="9" fill="#B4F0FA"/><rect x="457" y="493" width="9" height="9" fill="#78F573"/><rect x="483" y="493" width="9" height="9" fill="#78F573"/><rect x="492" y="493" width="8" height="9" fill="#78B9FA"/><rect x="500" y="493" width="9" height="9" fill="#3C96F5"/><rect x="509" y="493" width="9" height="9" fill="#1E6EEB"/><rect x="518" y="493" width="8" height="9" fill="#3C96F5"/><rect x="526" y="493" width="18" height="9" fill="#B4F0FA"/><rect x="544" y="493" width="17" height="9" fill="#1E6EEB"/><rect x="561" y="493" width="17" height="9" fill="#B4F0FA"/><rect x="578" y="493" width="7" height="9" fill="#78F573"/><rect x="344" y="502" width="35" height="9" fill="#B4FAAA"/><rect x="396" y="502" width="9" height="9" fill="#78F573"/><rect x="414" y="502" width="8" height="9" fill="#78F573"/><rect x="422" y="502" width="9" height="9" fill="#B4FAAA"/><rect x="431" y="502" width="17" height="9" fill="#78F573"/><rect x="448" y="502" width="9" height="9" fill="#B4F0FA"/><rect x="457" y="502" width="9" height="9" fill="#78B9FA"/><rect x="466" y="502" width="17" height="9" fill="#B4F0FA"/><rect x="483" y="502" width="9" height="9" fill="#B4FAAA"/><rect x="492" y="502" width="8" height="9" fill="#B4F0FA"/><rect x="500" y="502" width="9" height="9" fill="#78B9FA"/><rect x="509" y="502" width="9" height="9" fill="#FFE878"/><rect x="518" y="502" width="8" height="9" fill="#3C96F5"/><rect x="526" y="502" width="9" height="9" fill="#B4F0FA"/><rect x="535" y="502" width="9" height="9" fill="#B4FAAA"/><rect x="544" y="502" width="8" height="9" fill="#B4F0FA"/><rect x="552" y="502" width="9" height="9" fill="#78B9FA"/><rect x="561" y="502" width="9" height="9" fill="#B4F0FA"/><rect x="570" y="502" width="15" height="9" fill="#78F573"/><rect x="344" y="511" width="9" height="8" fill="#EED5B7"/><rect x="405" y="511" width="9" height="8" fill="#78F573"/><rect x="414" y="511" width="8" height="8" fill="#EED5B7"/><rect x="422" y="511" width="26" height="8" fill="#B4FAAA"/><rect x="448" y="511" width="26" height="8" fill="#B4F0FA"/><rect x="474" y="511" width="18" height="8" fill="#B4FAAA"/><rect x="492" y="511" width="8" height="8" fill="#78F573"/><rect x="500" y="511" width="18" height="8" fill="#78B9FA"/><rect x="518" y="511" width="17" height="8" fill="#B4F0FA"/><rect x="535" y="511" width="9" height="8" fill="#EED5B7"/><rect x="544" y="511" width="8" height="8" fill="#B4FAAA"/><rect x="552" y="511" width="9" height="8" fill="#78F573"/><rect x="561" y="511" width="9" height="8" fill="#B4F0FA"/><rect x="570" y="511" width="15" height="8" fill="#78F573"/><rect x="414" y="519" width="8" height="9" fill="#78F573"/><rect x="422" y="519" width="9" height="9" fill="#B4F0FA"/><rect x="431" y="519" width="17" height="9" fill="#B4FAAA"/><rect x="448" y="519" width="9" height="9" fill="#B4F0FA"/><rect x="457" y="519" width="26" height="9" fill="#78F573"/><rect x="483" y="519" width="9" height="9" fill="#B4FAAA"/><rect x="492" y="519" width="8" height="9" fill="#78F573"/><rect x="500" y="519" width="18" height="9" fill="#B4F0FA"/><rect x="518" y="519" width="67" height="9" fill="#B4FAAA"/><rect x="379" y="528" width="17" height="9" fill="#B4FAAA"/><rect x="414" y="528" width="17" height="9" fill="#B4F0FA"/><rect x="440" y="528" width="8" height="9" fill="#78F573"/><rect x="448" y="528" width="78" height="9" fill="#B4FAAA"/><rect x="535" y="528" width="17" height="9" fill="#B4FAAA"/><rect x="379" y="537" width="9" height="8" fill="#B4FAAA"/><rect x="405" y="537" width="9" height="8" fill="#EED5B7"/><rect x="414" y="537" width="8" height="8" fill="#78F573"/><rect x="466" y="537" width="17" height="8" fill="#B4FAAA"/><rect x="535" y="537" width="9" height="8" fill="#B4FAAA"/><rect x="396" y="545" width="18" height="9" fill="#EED5B7"/><rect x="544" y="545" width="8" height="9" fill="#B4FAAA"/><rect x="388" y="554" width="8" height="9" fill="#EED5B7"/><rect x="405" y="554" width="9" height="9" fill="#EED5B7"/><rect x="570" y="554" width="8" height="9" fill="#B4FAAA"/><rect x="578" y="554" width="7" height="9" fill="#78F573"/><rect x="388" y="563" width="8" height="8" fill="#B4FAAA"/><rect x="396" y="563" width="9" height="8" fill="#EED5B7"/><rect x="578" y="589" width="7" height="8" fill="#EED5B7"/><rect x="535" y="597" width="9" height="9" fill="#B4FAAA"/><rect x="544" y="597" width="8" height="9" fill="#EED5B7"/><rect x="561" y="597" width="24" height="9" fill="#B4FAAA"/><rect x="535" y="606" width="9" height="9" fill="#B4FAAA"/><rect x="561" y="606" width="9" height="9" fill="#B4FAAA"/><rect x="570" y="606" width="8" height="9" fill="#78F573"/><g transform="translate(305,337)" fill="none" stroke="#000" stroke-width="1" shape-rendering="crispEdges" stroke-linejoin="round" stroke-linecap="round"><path d="M75.1,113.4 L75.7,110.9 L79.8,108.8 L85.4,106.2 L90.6,107.3 L96.8,106.8 L100.9,107.8 L105.5,109.3 L111.2,110.4 L114.3,112.4 L114.8,114.5 L115.8,112.9 L120.5,113.4 L124.1,115.0 L126.1,114.5 L127.7,113.2 L129.5,114.5 L129.7,116.3 L131.8,115.5 L133.3,111.4 L135.9,108.8 L140.0,107.5 L144.2,107.5 L148.3,108.8 L152.4,109.8 L155.0,109.5 L158.1,107.4 L161.7,107.9 L165.3,107.2 L168.4,110.0 L172.0,111.0 L172.5,112.4 L180.7,112.4 L183.3,115.1 L185.9,117.5 L190.5,117.5 L193.1,115.5 L196.7,115.5 L199.3,118.2 L199.5,122.9 L200.8,126.0 L203.4,129.3 L208.6,129.3 L210.6,128.5 L216.8,128.5 L219.4,129.0 L220.9,127.5 L222.5,127.5 L223.0,129.0 L224.5,129.6 L222.8,132.1 L216.8,132.3 L211.1,132.3 L208.6,131.6 L207.7,134.2 L207.5,136.3 L213.7,136.3 L214.2,135.2 L215.8,135.4 L216.8,137.1 L220.9,137.8 L225.0,138.3 L226.1,139.1 L228.6,138.3 L233.3,138.3 L237.4,139.9 L240.5,142.4 L244.6,145.5 L248.7,148.6 L252.3,151.2 L253.9,152.7 L253.9,153.6 L251.1,157.7 L248.5,161.3 L244.4,161.0 L243.0,163.9 L241.8,166.5 L238.7,167.0 L238.2,166.0 L237.2,162.9 L234.1,160.0 L231.0,159.3 L229.4,161.0 L225.3,160.6 L222.2,158.7 L218.6,158.2 L218.1,159.3 L209.9,159.3 L207.8,158.2 L203.2,158.2 L198.5,157.5 L194.9,159.3 L192.9,162.4 L190.7,165.1 L179.9,165.1 L177.3,167.2 L175.6,165.9 L174.7,159.8 L171.1,159.3 L169.6,162.1 L165.5,162.4 L162.4,165.1 L160.3,163.4 L157.7,163.6 L157.4,166.2 L158.3,170.0 L154.7,174.9 L150.0,180.1 L148.0,182.6 L145.9,186.8 L144.4,187.3 L142.3,182.3 L136.6,182.1 L137.1,179.6 L138.2,179.0 L137.1,175.1 L134.6,173.4 L131.5,169.9 L127.4,166.8 L123.3,165.3 L115.0,165.3 L106.8,165.6 L106.3,167.9 L99.6,167.4 L99.1,168.9 L96.5,169.4 L91.3,168.4 L84.1,166.6 L79.0,165.8 L78.0,164.6 L75.9,165.3 L71.8,165.8 L66.1,165.8 L63.0,168.4 L61.0,171.0 L63.4,171.5 L63.4,173.5 L60.3,173.3 L58.3,170.0 L56.6,167.9 L53.6,165.6 L49.4,163.7 L45.3,163.5 L41.2,162.5 L39.6,160.1 L39.6,158.1 L41.0,155.0 L41.7,151.9 L46.3,150.6 L50.5,150.2 L52.5,151.4 L57.7,153.4 L62.8,154.0 L62.8,151.4 L65.9,151.2 L66.9,153.4 L71.1,153.2 L70.0,156.0 L67.5,156.5 L70.2,155.0 L75.9,155.5 L80.0,157.1 L87.2,158.1 L90.3,157.6 L95.5,159.1 L102.2,158.1 L104.2,154.5 L108.9,154.3 L113.5,155.0 L114.5,150.9 L111.2,149.5 L106.6,146.4 L105.0,142.8 L100.9,139.7 L97.8,136.6 L99.9,133.5 L98.3,131.0 L99.4,128.9 L100.4,125.8 L102.4,125.0 L99.9,122.7 L94.7,120.1 L90.6,117.4 L83.4,116.7 L76.7,116.5Z"/><path d="M133.3,111.4 L134.4,115.5 L134.9,118.6 L136.4,121.2 L135.9,124.3 L134.4,126.8 L133.9,128.4 L136.9,129.9 L139.8,132.5 L138.0,135.1 L135.4,137.6 L132.8,139.2 L129.7,141.3 L133.9,141.8 L134.7,143.3 L135.4,146.4 L133.9,149.0 L132.3,151.0 L125.5,152.4 L128.9,157.4 L133.6,160.1 L136.7,162.2 L135.6,163.7 L133.5,167.0 L133.8,169.5 L134.6,173.4"/><path d="M1.2,71.6 L1.9,76.2 L4.6,78.8 L10.3,79.3 L15.4,80.6 L17.0,81.4 L19.1,80.4 L23.2,80.6 L29.9,82.4 L31.9,85.5 L35.5,87.6 L37.6,90.1 L40.7,92.7 L42.7,94.3 L45.8,93.2 L48.9,93.5 L51.5,95.8 L51.0,97.9 L48.4,99.4 L47.9,101.0 L43.3,101.5 L39.1,102.5 L30.9,103.0 L25.7,104.0 L22.1,106.6 L19.1,107.6 L17.0,108.2 L15.4,106.1 L13.4,107.6 L9.3,108.2 L5.1,107.3 L1.0,108.4"/><path d="M66.3,68.6 L67.4,66.0 L72.0,63.5 L76.6,63.0 L78.5,62.4 L78.9,64.0 L82.3,64.5 L85.4,63.5 L88.0,60.4 L88.8,58.3 L90.5,58.3 L90.8,62.4 L89.0,65.5 L86.9,68.6 L84.9,71.2 L77.1,72.0 L73.5,72.2 L67.9,72.2 L66.3,70.7Z"/><path d="M88.2,52.9 L90.5,50.8 L93.3,51.8 L91.0,54.5 L89.0,54.5Z"/><path d="M92.1,102.3 L95.2,101.1 L99.9,101.9 L105.0,103.7 L104.0,104.7 L98.8,103.7 L94.7,102.9Z"/><path d="M80.3,141.3 L82.9,140.0 L86.5,140.4 L92.1,142.3 L96.3,144.9 L97.8,147.4 L97.3,149.5 L92.1,148.5 L87.0,145.6 L82.9,143.3Z"/><path d="M66.9,170.4 L69.2,170.2 L70.0,171.5 L69.5,172.8 L67.5,172.5Z"/><path d="M70.0,171.5 L71.6,171.5"/><path d="M141.3,188.8 L142.3,187.5 L143.6,188.5 L142.6,189.9Z"/><path d="M24.2,1.2 L25.2,4.1 L26.6,5.4 L27.6,3.6 L27.3,1.2"/><path d="M44.3,6.5 L45.8,5.4 L47.9,6.4 L50.5,9.3 L56.1,10.1 L56.4,12.9 L59.2,13.4 L58.7,10.3 L61.6,9.5 L61.8,16.5 L59.2,18.5 L55.6,22.1 L50.5,25.2 L46.3,28.8 L46.9,27.3 L51.5,23.2 L56.1,19.6 L58.7,18.0"/><path d="M47.4,9.8 L45.3,12.4 L43.3,14.4 L43.3,16.5"/><path d="M44.3,6.5 L47.4,9.8 L51.0,10.8 L56.1,10.1"/><path d="M69.0,15.4 L69.0,13.1 L72.0,13.1 L74.7,14.4"/><path d="M85.3,21.1 L86.5,19.4 L90.6,19.6 L93.7,21.1 L97.8,22.1 L99.7,24.7 L97.8,25.2 L95.3,23.2 L90.6,22.7 L87.5,23.5 L85.5,22.1Z"/><path d="M124.2,37.7 L126.1,36.4 L128.3,37.4 L128.6,39.8 L131.7,40.3 L135.8,39.8 L137.9,41.3 L137.2,43.9 L134.3,44.2 L131.7,43.2 L130.2,41.3 L127.1,40.3 L125.0,39.1Z"/><path d="M140.3,43.4 L142.5,44.4 L144.6,44.4 L144.8,47.5 L143.1,47.0 L142.5,50.1 L143.8,51.1 L143.4,53.2 L141.3,53.7 L141.7,51.1"/><path d="M155.2,52.1 L155.4,55.2 L156.7,54.2"/><path d="M237.9,168.9 L238.9,167.4 L241.6,167.0 L241.9,168.2 L244.5,169.4 L238.3,169.4Z"/><path d="M113.5,42.4 L114.5,40.3 L116.6,41.8 L119.4,41.5 L121.7,41.1 L119.9,43.4 L116.8,43.6 L114.2,43.4Z"/><g fill="#000"><path d="M109.1,45.4 L111.6,45.2 L109.6,47.7Z"/><path d="M140.6,43.6 L144.6,44.4 L144.8,47.5 L143.1,47.0 L142.2,45.6Z"/><path d="M141.5,50.8 L143.6,51.0 L143.4,53.2 L141.5,53.5Z"/><path d="M124.4,37.7 L126.1,36.6 L128.1,37.5 L128.4,39.6 L127.1,40.1 L125.2,39.0Z"/></g><path d="M135.1,59.4H137.9M152.9,58.3H155"/><circle cx="268.1" cy="170.9" r="1.5" shape-rendering="geometricPrecision"/></g><rect x="305.5" y="337.5" width="280" height="278" fill="none" stroke="#000" stroke-width="1"/><rect x="306.5" y="314.5" width="278" height="23" fill="#fff" stroke="#000" stroke-width="1"/><rect x="596" y="338" width="4" height="8" fill="#78F573"/><rect x="600" y="338" width="17" height="8" fill="#B4F0FA"/><rect x="617" y="338" width="17" height="8" fill="#78F573"/><rect x="634" y="338" width="18" height="8" fill="#B4FAAA"/><rect x="652" y="338" width="17" height="8" fill="#78F573"/><rect x="669" y="338" width="35" height="8" fill="#B4F0FA"/><rect x="704" y="338" width="8" height="8" fill="#78F573"/><rect x="712" y="338" width="35" height="8" fill="#B4F0FA"/><rect x="747" y="338" width="9" height="8" fill="#78B9FA"/><rect x="756" y="338" width="8" height="8" fill="#1E6EEB"/><rect x="764" y="338" width="18" height="8" fill="#FF3200"/><rect x="782" y="338" width="8" height="8" fill="#FFA000"/><rect x="790" y="338" width="18" height="8" fill="#FF3200"/><rect x="808" y="338" width="8" height="8" fill="#FFE878"/><rect x="816" y="338" width="18" height="8" fill="#1E6EEB"/><rect x="834" y="338" width="8" height="8" fill="#FFE878"/><rect x="842" y="338" width="9" height="8" fill="#1E6EEB"/><rect x="851" y="338" width="17" height="8" fill="#3C96F5"/><rect x="868" y="338" width="7" height="8" fill="#78B9FA"/><rect x="596" y="346" width="21" height="9" fill="#B4F0FA"/><rect x="617" y="346" width="9" height="9" fill="#78F573"/><rect x="626" y="346" width="34" height="9" fill="#B4FAAA"/><rect x="660" y="346" width="9" height="9" fill="#B4F0FA"/><rect x="669" y="346" width="17" height="9" fill="#78B9FA"/><rect x="686" y="346" width="9" height="9" fill="#B4F0FA"/><rect x="695" y="346" width="17" height="9" fill="#B4FAAA"/><rect x="712" y="346" width="26" height="9" fill="#78F573"/><rect x="738" y="346" width="18" height="9" fill="#B4F0FA"/><rect x="756" y="346" width="8" height="9" fill="#3C96F5"/><rect x="764" y="346" width="9" height="9" fill="#FFE878"/><rect x="773" y="346" width="17" height="9" fill="#FFA000"/><rect x="790" y="346" width="18" height="9" fill="#FF3200"/><rect x="808" y="346" width="8" height="9" fill="#FFA000"/><rect x="816" y="346" width="9" height="9" fill="#1E6EEB"/><rect x="825" y="346" width="9" height="9" fill="#3C96F5"/><rect x="834" y="346" width="8" height="9" fill="#1E6EEB"/><rect x="842" y="346" width="18" height="9" fill="#3C96F5"/><rect x="860" y="346" width="8" height="9" fill="#78B9FA"/><rect x="868" y="346" width="7" height="9" fill="#B4F0FA"/><rect x="596" y="355" width="30" height="8" fill="#B4F0FA"/><rect x="626" y="355" width="17" height="8" fill="#78F573"/><rect x="643" y="355" width="9" height="8" fill="#B4FAAA"/><rect x="652" y="355" width="26" height="8" fill="#78F573"/><rect x="678" y="355" width="17" height="8" fill="#B4F0FA"/><rect x="695" y="355" width="9" height="8" fill="#78F573"/><rect x="704" y="355" width="17" height="8" fill="#B4FAAA"/><rect x="721" y="355" width="9" height="8" fill="#78F573"/><rect x="730" y="355" width="8" height="8" fill="#B4F0FA"/><rect x="738" y="355" width="9" height="8" fill="#78B9FA"/><rect x="747" y="355" width="17" height="8" fill="#FFE878"/><rect x="764" y="355" width="18" height="8" fill="#FFA000"/><rect x="782" y="355" width="17" height="8" fill="#FFE878"/><rect x="799" y="355" width="9" height="8" fill="#FFA000"/><rect x="808" y="355" width="17" height="8" fill="#1E6EEB"/><rect x="825" y="355" width="9" height="8" fill="#3C96F5"/><rect x="834" y="355" width="26" height="8" fill="#78B9FA"/><rect x="860" y="355" width="15" height="8" fill="#B4F0FA"/><rect x="596" y="363" width="30" height="9" fill="#B4F0FA"/><rect x="626" y="363" width="8" height="9" fill="#78F573"/><rect x="634" y="363" width="18" height="9" fill="#B4FAAA"/><rect x="652" y="363" width="8" height="9" fill="#EED5B7"/><rect x="660" y="363" width="61" height="9" fill="#78F573"/><rect x="721" y="363" width="9" height="9" fill="#B4F0FA"/><rect x="730" y="363" width="8" height="9" fill="#78B9FA"/><rect x="738" y="363" width="9" height="9" fill="#1E6EEB"/><rect x="747" y="363" width="26" height="9" fill="#FFE878"/><rect x="773" y="363" width="9" height="9" fill="#FFA000"/><rect x="782" y="363" width="8" height="9" fill="#FFE878"/><rect x="790" y="363" width="9" height="9" fill="#1E6EEB"/><rect x="799" y="363" width="9" height="9" fill="#FFE878"/><rect x="808" y="363" width="8" height="9" fill="#3C96F5"/><rect x="816" y="363" width="18" height="9" fill="#78B9FA"/><rect x="834" y="363" width="41" height="9" fill="#B4F0FA"/><rect x="596" y="372" width="30" height="9" fill="#78B9FA"/><rect x="626" y="372" width="8" height="9" fill="#78F573"/><rect x="634" y="372" width="26" height="9" fill="#B4FAAA"/><rect x="660" y="372" width="35" height="9" fill="#78F573"/><rect x="695" y="372" width="35" height="9" fill="#B4F0FA"/><rect x="730" y="372" width="8" height="9" fill="#78B9FA"/><rect x="738" y="372" width="9" height="9" fill="#1E6EEB"/><rect x="747" y="372" width="9" height="9" fill="#FFA000"/><rect x="756" y="372" width="17" height="9" fill="#FFE878"/><rect x="773" y="372" width="9" height="9" fill="#FFA000"/><rect x="782" y="372" width="26" height="9" fill="#FFE878"/><rect x="808" y="372" width="8" height="9" fill="#1E6EEB"/><rect x="816" y="372" width="9" height="9" fill="#3C96F5"/><rect x="825" y="372" width="9" height="9" fill="#78B9FA"/><rect x="834" y="372" width="41" height="9" fill="#B4F0FA"/><rect x="596" y="381" width="30" height="8" fill="#3C96F5"/><rect x="626" y="381" width="8" height="8" fill="#78B9FA"/><rect x="634" y="381" width="35" height="8" fill="#B4F0FA"/><rect x="669" y="381" width="9" height="8" fill="#EED5B7"/><rect x="686" y="381" width="9" height="8" fill="#B4FAAA"/><rect x="695" y="381" width="9" height="8" fill="#78F573"/><rect x="704" y="381" width="26" height="8" fill="#B4F0FA"/><rect x="730" y="381" width="26" height="8" fill="#3C96F5"/><rect x="756" y="381" width="17" height="8" fill="#78B9FA"/><rect x="773" y="381" width="35" height="8" fill="#3C96F5"/><rect x="808" y="381" width="8" height="8" fill="#FFE878"/><rect x="816" y="381" width="9" height="8" fill="#3C96F5"/><rect x="825" y="381" width="17" height="8" fill="#78B9FA"/><rect x="842" y="381" width="9" height="8" fill="#B4F0FA"/><rect x="851" y="381" width="9" height="8" fill="#78F573"/><rect x="860" y="381" width="15" height="8" fill="#B4F0FA"/><rect x="596" y="389" width="21" height="9" fill="#3C96F5"/><rect x="617" y="389" width="9" height="9" fill="#78B9FA"/><rect x="626" y="389" width="8" height="9" fill="#3C96F5"/><rect x="634" y="389" width="9" height="9" fill="#1E6EEB"/><rect x="643" y="389" width="17" height="9" fill="#B4F0FA"/><rect x="660" y="389" width="35" height="9" fill="#78F573"/><rect x="695" y="389" width="9" height="9" fill="#B4FAAA"/><rect x="704" y="389" width="34" height="9" fill="#B4F0FA"/><rect x="738" y="389" width="9" height="9" fill="#1E6EEB"/><rect x="747" y="389" width="9" height="9" fill="#3C96F5"/><rect x="756" y="389" width="69" height="9" fill="#78B9FA"/><rect x="825" y="389" width="50" height="9" fill="#B4F0FA"/><rect x="596" y="398" width="4" height="9" fill="#1E6EEB"/><rect x="600" y="398" width="17" height="9" fill="#FFE878"/><rect x="617" y="398" width="26" height="9" fill="#3C96F5"/><rect x="643" y="398" width="9" height="9" fill="#78B9FA"/><rect x="652" y="398" width="17" height="9" fill="#B4F0FA"/><rect x="669" y="398" width="17" height="9" fill="#78F573"/><rect x="686" y="398" width="44" height="9" fill="#B4F0FA"/><rect x="730" y="398" width="8" height="9" fill="#B4FAAA"/><rect x="738" y="398" width="9" height="9" fill="#B4F0FA"/><rect x="747" y="398" width="9" height="9" fill="#78B9FA"/><rect x="756" y="398" width="8" height="9" fill="#B4F0FA"/><rect x="764" y="398" width="9" height="9" fill="#78B9FA"/><rect x="773" y="398" width="61" height="9" fill="#B4F0FA"/><rect x="834" y="398" width="17" height="9" fill="#78F573"/><rect x="851" y="398" width="17" height="9" fill="#78B9FA"/><rect x="868" y="398" width="7" height="9" fill="#B4F0FA"/><rect x="596" y="407" width="4" height="8" fill="#3C96F5"/><rect x="600" y="407" width="8" height="8" fill="#FFE878"/><rect x="608" y="407" width="9" height="8" fill="#FFA000"/><rect x="617" y="407" width="9" height="8" fill="#1E6EEB"/><rect x="626" y="407" width="8" height="8" fill="#3C96F5"/><rect x="634" y="407" width="26" height="8" fill="#78B9FA"/><rect x="660" y="407" width="9" height="8" fill="#B4F0FA"/><rect x="669" y="407" width="9" height="8" fill="#78B9FA"/><rect x="678" y="407" width="8" height="8" fill="#3C96F5"/><rect x="686" y="407" width="18" height="8" fill="#B4F0FA"/><rect x="704" y="407" width="8" height="8" fill="#78F573"/><rect x="712" y="407" width="18" height="8" fill="#B4F0FA"/><rect x="730" y="407" width="8" height="8" fill="#78F573"/><rect x="738" y="407" width="9" height="8" fill="#B4FAAA"/><rect x="747" y="407" width="17" height="8" fill="#78F573"/><rect x="764" y="407" width="18" height="8" fill="#78B9FA"/><rect x="782" y="407" width="17" height="8" fill="#B4F0FA"/><rect x="799" y="407" width="17" height="8" fill="#78B9FA"/><rect x="816" y="407" width="9" height="8" fill="#B4F0FA"/><rect x="825" y="407" width="26" height="8" fill="#78F573"/><rect x="851" y="407" width="17" height="8" fill="#78B9FA"/><rect x="868" y="407" width="7" height="8" fill="#B4F0FA"/><rect x="596" y="415" width="4" height="9" fill="#B4F0FA"/><rect x="600" y="415" width="8" height="9" fill="#78B9FA"/><rect x="608" y="415" width="9" height="9" fill="#1E6EEB"/><rect x="617" y="415" width="17" height="9" fill="#3C96F5"/><rect x="634" y="415" width="9" height="9" fill="#78B9FA"/><rect x="643" y="415" width="9" height="9" fill="#B4F0FA"/><rect x="652" y="415" width="26" height="9" fill="#78B9FA"/><rect x="678" y="415" width="17" height="9" fill="#B4F0FA"/><rect x="695" y="415" width="17" height="9" fill="#B4FAAA"/><rect x="712" y="415" width="9" height="9" fill="#78F573"/><rect x="721" y="415" width="9" height="9" fill="#B4F0FA"/><rect x="730" y="415" width="26" height="9" fill="#78F573"/><rect x="756" y="415" width="8" height="9" fill="#B4FAAA"/><rect x="764" y="415" width="35" height="9" fill="#78F573"/><rect x="799" y="415" width="17" height="9" fill="#78B9FA"/><rect x="816" y="415" width="9" height="9" fill="#B4F0FA"/><rect x="825" y="415" width="9" height="9" fill="#78F573"/><rect x="834" y="415" width="17" height="9" fill="#B4F0FA"/><rect x="851" y="415" width="17" height="9" fill="#3C96F5"/><rect x="868" y="415" width="7" height="9" fill="#B4F0FA"/><rect x="596" y="424" width="21" height="9" fill="#78F573"/><rect x="617" y="424" width="17" height="9" fill="#78B9FA"/><rect x="634" y="424" width="18" height="9" fill="#B4F0FA"/><rect x="652" y="424" width="8" height="9" fill="#78B9FA"/><rect x="660" y="424" width="9" height="9" fill="#1E6EEB"/><rect x="669" y="424" width="9" height="9" fill="#FFE878"/><rect x="678" y="424" width="8" height="9" fill="#78B9FA"/><rect x="686" y="424" width="9" height="9" fill="#B4F0FA"/><rect x="695" y="424" width="17" height="9" fill="#78F573"/><rect x="712" y="424" width="9" height="9" fill="#B4FAAA"/><rect x="721" y="424" width="9" height="9" fill="#78F573"/><rect x="730" y="424" width="17" height="9" fill="#B4F0FA"/><rect x="747" y="424" width="52" height="9" fill="#B4FAAA"/><rect x="799" y="424" width="26" height="9" fill="#B4F0FA"/><rect x="825" y="424" width="9" height="9" fill="#78F573"/><rect x="834" y="424" width="17" height="9" fill="#B4F0FA"/><rect x="851" y="424" width="9" height="9" fill="#78B9FA"/><rect x="860" y="424" width="8" height="9" fill="#3C96F5"/><rect x="868" y="424" width="7" height="9" fill="#B4F0FA"/><rect x="596" y="433" width="4" height="8" fill="#78B9FA"/><rect x="600" y="433" width="8" height="8" fill="#78F573"/><rect x="608" y="433" width="9" height="8" fill="#B4FAAA"/><rect x="617" y="433" width="9" height="8" fill="#78F573"/><rect x="626" y="433" width="26" height="8" fill="#B4F0FA"/><rect x="652" y="433" width="8" height="8" fill="#3C96F5"/><rect x="660" y="433" width="18" height="8" fill="#FFE878"/><rect x="678" y="433" width="8" height="8" fill="#3C96F5"/><rect x="686" y="433" width="9" height="8" fill="#B4F0FA"/><rect x="695" y="433" width="9" height="8" fill="#78F573"/><rect x="704" y="433" width="17" height="8" fill="#B4F0FA"/><rect x="721" y="433" width="9" height="8" fill="#78F573"/><rect x="730" y="433" width="17" height="8" fill="#B4F0FA"/><rect x="747" y="433" width="9" height="8" fill="#78F573"/><rect x="756" y="433" width="8" height="8" fill="#B4FAAA"/><rect x="764" y="433" width="9" height="8" fill="#EED5B7"/><rect x="773" y="433" width="9" height="8" fill="#B4FAAA"/><rect x="790" y="433" width="9" height="8" fill="#EED5B7"/><rect x="799" y="433" width="9" height="8" fill="#B4FAAA"/><rect x="808" y="433" width="8" height="8" fill="#B4F0FA"/><rect x="816" y="433" width="18" height="8" fill="#78F573"/><rect x="834" y="433" width="8" height="8" fill="#B4F0FA"/><rect x="842" y="433" width="26" height="8" fill="#78B9FA"/><rect x="868" y="433" width="7" height="8" fill="#B4F0FA"/><rect x="596" y="441" width="4" height="9" fill="#3C96F5"/><rect x="600" y="441" width="8" height="9" fill="#B4F0FA"/><rect x="608" y="441" width="18" height="9" fill="#78F573"/><rect x="626" y="441" width="8" height="9" fill="#B4F0FA"/><rect x="634" y="441" width="9" height="9" fill="#78B9FA"/><rect x="643" y="441" width="9" height="9" fill="#B4F0FA"/><rect x="652" y="441" width="17" height="9" fill="#78B9FA"/><rect x="669" y="441" width="9" height="9" fill="#3C96F5"/><rect x="678" y="441" width="8" height="9" fill="#78B9FA"/><rect x="686" y="441" width="52" height="9" fill="#B4F0FA"/><rect x="738" y="441" width="18" height="9" fill="#3C96F5"/><rect x="756" y="441" width="8" height="9" fill="#78F573"/><rect x="764" y="441" width="18" height="9" fill="#EED5B7"/><rect x="799" y="441" width="35" height="9" fill="#B4FAAA"/><rect x="834" y="441" width="8" height="9" fill="#78F573"/><rect x="842" y="441" width="26" height="9" fill="#B4F0FA"/><rect x="868" y="441" width="7" height="9" fill="#78F573"/><rect x="596" y="450" width="12" height="9" fill="#78B9FA"/><rect x="608" y="450" width="9" height="9" fill="#78F573"/><rect x="617" y="450" width="9" height="9" fill="#B4FAAA"/><rect x="626" y="450" width="8" height="9" fill="#78F573"/><rect x="634" y="450" width="26" height="9" fill="#B4F0FA"/><rect x="660" y="450" width="9" height="9" fill="#78F573"/><rect x="669" y="450" width="52" height="9" fill="#B4F0FA"/><rect x="721" y="450" width="9" height="9" fill="#78F573"/><rect x="730" y="450" width="8" height="9" fill="#B4F0FA"/><rect x="738" y="450" width="9" height="9" fill="#78B9FA"/><rect x="747" y="450" width="9" height="9" fill="#1E6EEB"/><rect x="756" y="450" width="8" height="9" fill="#78B9FA"/><rect x="764" y="450" width="18" height="9" fill="#78F573"/><rect x="782" y="450" width="8" height="9" fill="#B4FAAA"/><rect x="808" y="450" width="8" height="9" fill="#B4FAAA"/><rect x="834" y="450" width="17" height="9" fill="#B4FAAA"/><rect x="851" y="450" width="9" height="9" fill="#B4F0FA"/><rect x="860" y="450" width="8" height="9" fill="#B4FAAA"/><rect x="868" y="450" width="7" height="9" fill="#78F573"/><rect x="596" y="459" width="30" height="8" fill="#B4F0FA"/><rect x="626" y="459" width="8" height="8" fill="#B4FAAA"/><rect x="643" y="459" width="9" height="8" fill="#78F573"/><rect x="652" y="459" width="8" height="8" fill="#3C96F5"/><rect x="660" y="459" width="9" height="8" fill="#B4F0FA"/><rect x="669" y="459" width="9" height="8" fill="#B4FAAA"/><rect x="678" y="459" width="17" height="8" fill="#78F573"/><rect x="695" y="459" width="9" height="8" fill="#B4FAAA"/><rect x="712" y="459" width="9" height="8" fill="#78F573"/><rect x="721" y="459" width="9" height="8" fill="#B4F0FA"/><rect x="730" y="459" width="8" height="8" fill="#78F573"/><rect x="738" y="459" width="9" height="8" fill="#B4F0FA"/><rect x="747" y="459" width="9" height="8" fill="#1E6EEB"/><rect x="756" y="459" width="8" height="8" fill="#78B9FA"/><rect x="764" y="459" width="18" height="8" fill="#78F573"/><rect x="782" y="459" width="17" height="8" fill="#B4FAAA"/><rect x="808" y="459" width="8" height="8" fill="#EED5B7"/><rect x="816" y="459" width="9" height="8" fill="#B4FAAA"/><rect x="834" y="459" width="8" height="8" fill="#EED5B7"/><rect x="842" y="459" width="9" height="8" fill="#78F573"/><rect x="851" y="459" width="9" height="8" fill="#B4F0FA"/><rect x="868" y="459" width="7" height="8" fill="#B4FAAA"/><rect x="596" y="467" width="4" height="9" fill="#78B9FA"/><rect x="600" y="467" width="8" height="9" fill="#B4F0FA"/><rect x="608" y="467" width="26" height="9" fill="#78F573"/><rect x="634" y="467" width="9" height="9" fill="#B4FAAA"/><rect x="652" y="467" width="8" height="9" fill="#B4F0FA"/><rect x="660" y="467" width="9" height="9" fill="#FFE878"/><rect x="669" y="467" width="9" height="9" fill="#3C96F5"/><rect x="678" y="467" width="8" height="9" fill="#B4FAAA"/><rect x="686" y="467" width="9" height="9" fill="#B4F0FA"/><rect x="695" y="467" width="9" height="9" fill="#78F573"/><rect x="704" y="467" width="17" height="9" fill="#B4FAAA"/><rect x="721" y="467" width="9" height="9" fill="#B4F0FA"/><rect x="730" y="467" width="8" height="9" fill="#B4FAAA"/><rect x="738" y="467" width="9" height="9" fill="#78F573"/><rect x="747" y="467" width="9" height="9" fill="#1E6EEB"/><rect x="756" y="467" width="8" height="9" fill="#3C96F5"/><rect x="764" y="467" width="18" height="9" fill="#78F573"/><rect x="782" y="467" width="8" height="9" fill="#B4FAAA"/><rect x="799" y="467" width="9" height="9" fill="#EED5B7"/><rect x="808" y="467" width="43" height="9" fill="#B4FAAA"/><rect x="851" y="467" width="9" height="9" fill="#78F573"/><rect x="860" y="467" width="8" height="9" fill="#B4FAAA"/><rect x="600" y="476" width="26" height="9" fill="#B4FAAA"/><rect x="626" y="476" width="8" height="9" fill="#78F573"/><rect x="634" y="476" width="18" height="9" fill="#B4FAAA"/><rect x="660" y="476" width="9" height="9" fill="#B4FAAA"/><rect x="669" y="476" width="17" height="9" fill="#1E6EEB"/><rect x="686" y="476" width="18" height="9" fill="#B4F0FA"/><rect x="704" y="476" width="8" height="9" fill="#78F573"/><rect x="712" y="476" width="9" height="9" fill="#B4FAAA"/><rect x="721" y="476" width="26" height="9" fill="#78F573"/><rect x="747" y="476" width="9" height="9" fill="#3C96F5"/><rect x="756" y="476" width="8" height="9" fill="#78B9FA"/><rect x="764" y="476" width="9" height="9" fill="#B4F0FA"/><rect x="773" y="476" width="17" height="9" fill="#78F573"/><rect x="790" y="476" width="52" height="9" fill="#B4FAAA"/><rect x="842" y="476" width="18" height="9" fill="#EED5B7"/><rect x="860" y="476" width="8" height="9" fill="#B4FAAA"/><rect x="608" y="485" width="18" height="8" fill="#B4FAAA"/><rect x="634" y="485" width="18" height="8" fill="#B4FAAA"/><rect x="678" y="485" width="17" height="8" fill="#B4F0FA"/><rect x="695" y="485" width="9" height="8" fill="#78F573"/><rect x="704" y="485" width="8" height="8" fill="#B4F0FA"/><rect x="712" y="485" width="9" height="8" fill="#78F573"/><rect x="721" y="485" width="9" height="8" fill="#B4FAAA"/><rect x="730" y="485" width="8" height="8" fill="#78F573"/><rect x="738" y="485" width="9" height="8" fill="#B4FAAA"/><rect x="747" y="485" width="9" height="8" fill="#B4F0FA"/><rect x="756" y="485" width="8" height="8" fill="#78B9FA"/><rect x="764" y="485" width="26" height="8" fill="#78F573"/><rect x="790" y="485" width="52" height="8" fill="#B4FAAA"/><rect x="842" y="485" width="9" height="8" fill="#EED5B7"/><rect x="860" y="485" width="8" height="8" fill="#B4FAAA"/><rect x="634" y="493" width="9" height="9" fill="#EED5B7"/><rect x="643" y="493" width="17" height="9" fill="#B4FAAA"/><rect x="686" y="493" width="9" height="9" fill="#78F573"/><rect x="704" y="493" width="8" height="9" fill="#B4FAAA"/><rect x="712" y="493" width="9" height="9" fill="#78F573"/><rect x="721" y="493" width="9" height="9" fill="#B4FAAA"/><rect x="730" y="493" width="17" height="9" fill="#78F573"/><rect x="747" y="493" width="9" height="9" fill="#B4FAAA"/><rect x="756" y="493" width="8" height="9" fill="#78F573"/><rect x="764" y="493" width="9" height="9" fill="#B4FAAA"/><rect x="773" y="493" width="26" height="9" fill="#78F573"/><rect x="799" y="493" width="9" height="9" fill="#B4FAAA"/><rect x="808" y="493" width="8" height="9" fill="#78F573"/><rect x="816" y="493" width="52" height="9" fill="#B4FAAA"/><rect x="643" y="502" width="9" height="9" fill="#B4FAAA"/><rect x="721" y="502" width="9" height="9" fill="#B4FAAA"/><rect x="730" y="502" width="17" height="9" fill="#EED5B7"/><rect x="747" y="502" width="9" height="9" fill="#B4FAAA"/><rect x="756" y="502" width="26" height="9" fill="#78F573"/><rect x="782" y="502" width="8" height="9" fill="#B4F0FA"/><rect x="790" y="502" width="9" height="9" fill="#78F573"/><rect x="799" y="502" width="17" height="9" fill="#B4F0FA"/><rect x="816" y="502" width="9" height="9" fill="#78F573"/><rect x="825" y="502" width="17" height="9" fill="#B4FAAA"/><rect x="842" y="502" width="9" height="9" fill="#EED5B7"/><rect x="600" y="511" width="8" height="8" fill="#B4FAAA"/><rect x="721" y="511" width="17" height="8" fill="#B4FAAA"/><rect x="738" y="511" width="9" height="8" fill="#EED5B7"/><rect x="747" y="511" width="9" height="8" fill="#B4FAAA"/><rect x="756" y="511" width="17" height="8" fill="#78F573"/><rect x="773" y="511" width="61" height="8" fill="#B4F0FA"/><rect x="834" y="511" width="8" height="8" fill="#B4FAAA"/><rect x="860" y="511" width="8" height="8" fill="#B4FAAA"/><rect x="608" y="519" width="9" height="9" fill="#EED5B7"/><rect x="617" y="519" width="9" height="9" fill="#B4FAAA"/><rect x="712" y="519" width="26" height="9" fill="#B4FAAA"/><rect x="738" y="519" width="9" height="9" fill="#78F573"/><rect x="747" y="519" width="35" height="9" fill="#B4F0FA"/><rect x="782" y="519" width="8" height="9" fill="#78B9FA"/><rect x="790" y="519" width="18" height="9" fill="#B4F0FA"/><rect x="808" y="519" width="17" height="9" fill="#78F573"/><rect x="825" y="519" width="9" height="9" fill="#B4F0FA"/><rect x="834" y="519" width="8" height="9" fill="#78F573"/><rect x="842" y="519" width="9" height="9" fill="#B4FAAA"/><rect x="617" y="528" width="9" height="9" fill="#B4FAAA"/><rect x="712" y="528" width="9" height="9" fill="#B4FAAA"/><rect x="721" y="528" width="9" height="9" fill="#B4F0FA"/><rect x="730" y="528" width="17" height="9" fill="#B4FAAA"/><rect x="747" y="528" width="17" height="9" fill="#78F573"/><rect x="764" y="528" width="18" height="9" fill="#B4F0FA"/><rect x="782" y="528" width="8" height="9" fill="#78B9FA"/><rect x="790" y="528" width="18" height="9" fill="#B4F0FA"/><rect x="808" y="528" width="17" height="9" fill="#78F573"/><rect x="825" y="528" width="26" height="9" fill="#B4FAAA"/><rect x="596" y="537" width="4" height="8" fill="#B4FAAA"/><rect x="695" y="537" width="9" height="8" fill="#B4FAAA"/><rect x="747" y="537" width="9" height="8" fill="#B4FAAA"/><rect x="756" y="537" width="26" height="8" fill="#78F573"/><rect x="782" y="537" width="8" height="8" fill="#78B9FA"/><rect x="790" y="537" width="9" height="8" fill="#B4F0FA"/><rect x="799" y="537" width="9" height="8" fill="#78F573"/><rect x="808" y="537" width="26" height="8" fill="#B4FAAA"/><rect x="596" y="545" width="12" height="9" fill="#B4FAAA"/><rect x="712" y="545" width="9" height="9" fill="#EED5B7"/><rect x="764" y="545" width="70" height="9" fill="#B4FAAA"/><rect x="596" y="554" width="12" height="9" fill="#B4FAAA"/><rect x="686" y="554" width="9" height="9" fill="#B4FAAA"/><rect x="773" y="554" width="17" height="9" fill="#B4FAAA"/><rect x="790" y="554" width="9" height="9" fill="#EED5B7"/><rect x="596" y="563" width="4" height="8" fill="#B4FAAA"/><rect x="686" y="563" width="9" height="8" fill="#B4FAAA"/><rect x="773" y="563" width="9" height="8" fill="#EED5B7"/><rect x="782" y="563" width="8" height="8" fill="#B4FAAA"/><rect x="782" y="571" width="8" height="9" fill="#B4FAAA"/><rect x="596" y="606" width="4" height="9" fill="#B4FAAA"/><g transform="translate(595,337)" fill="none" stroke="#000" stroke-width="1" shape-rendering="crispEdges" stroke-linejoin="round" stroke-linecap="round"><path d="M75.1,113.4 L75.7,110.9 L79.8,108.8 L85.4,106.2 L90.6,107.3 L96.8,106.8 L100.9,107.8 L105.5,109.3 L111.2,110.4 L114.3,112.4 L114.8,114.5 L115.8,112.9 L120.5,113.4 L124.1,115.0 L126.1,114.5 L127.7,113.2 L129.5,114.5 L129.7,116.3 L131.8,115.5 L133.3,111.4 L135.9,108.8 L140.0,107.5 L144.2,107.5 L148.3,108.8 L152.4,109.8 L155.0,109.5 L158.1,107.4 L161.7,107.9 L165.3,107.2 L168.4,110.0 L172.0,111.0 L172.5,112.4 L180.7,112.4 L183.3,115.1 L185.9,117.5 L190.5,117.5 L193.1,115.5 L196.7,115.5 L199.3,118.2 L199.5,122.9 L200.8,126.0 L203.4,129.3 L208.6,129.3 L210.6,128.5 L216.8,128.5 L219.4,129.0 L220.9,127.5 L222.5,127.5 L223.0,129.0 L224.5,129.6 L222.8,132.1 L216.8,132.3 L211.1,132.3 L208.6,131.6 L207.7,134.2 L207.5,136.3 L213.7,136.3 L214.2,135.2 L215.8,135.4 L216.8,137.1 L220.9,137.8 L225.0,138.3 L226.1,139.1 L228.6,138.3 L233.3,138.3 L237.4,139.9 L240.5,142.4 L244.6,145.5 L248.7,148.6 L252.3,151.2 L253.9,152.7 L253.9,153.6 L251.1,157.7 L248.5,161.3 L244.4,161.0 L243.0,163.9 L241.8,166.5 L238.7,167.0 L238.2,166.0 L237.2,162.9 L234.1,160.0 L231.0,159.3 L229.4,161.0 L225.3,160.6 L222.2,158.7 L218.6,158.2 L218.1,159.3 L209.9,159.3 L207.8,158.2 L203.2,158.2 L198.5,157.5 L194.9,159.3 L192.9,162.4 L190.7,165.1 L179.9,165.1 L177.3,167.2 L175.6,165.9 L174.7,159.8 L171.1,159.3 L169.6,162.1 L165.5,162.4 L162.4,165.1 L160.3,163.4 L157.7,163.6 L157.4,166.2 L158.3,170.0 L154.7,174.9 L150.0,180.1 L148.0,182.6 L145.9,186.8 L144.4,187.3 L142.3,182.3 L136.6,182.1 L137.1,179.6 L138.2,179.0 L137.1,175.1 L134.6,173.4 L131.5,169.9 L127.4,166.8 L123.3,165.3 L115.0,165.3 L106.8,165.6 L106.3,167.9 L99.6,167.4 L99.1,168.9 L96.5,169.4 L91.3,168.4 L84.1,166.6 L79.0,165.8 L78.0,164.6 L75.9,165.3 L71.8,165.8 L66.1,165.8 L63.0,168.4 L61.0,171.0 L63.4,171.5 L63.4,173.5 L60.3,173.3 L58.3,170.0 L56.6,167.9 L53.6,165.6 L49.4,163.7 L45.3,163.5 L41.2,162.5 L39.6,160.1 L39.6,158.1 L41.0,155.0 L41.7,151.9 L46.3,150.6 L50.5,150.2 L52.5,151.4 L57.7,153.4 L62.8,154.0 L62.8,151.4 L65.9,151.2 L66.9,153.4 L71.1,153.2 L70.0,156.0 L67.5,156.5 L70.2,155.0 L75.9,155.5 L80.0,157.1 L87.2,158.1 L90.3,157.6 L95.5,159.1 L102.2,158.1 L104.2,154.5 L108.9,154.3 L113.5,155.0 L114.5,150.9 L111.2,149.5 L106.6,146.4 L105.0,142.8 L100.9,139.7 L97.8,136.6 L99.9,133.5 L98.3,131.0 L99.4,128.9 L100.4,125.8 L102.4,125.0 L99.9,122.7 L94.7,120.1 L90.6,117.4 L83.4,116.7 L76.7,116.5Z"/><path d="M133.3,111.4 L134.4,115.5 L134.9,118.6 L136.4,121.2 L135.9,124.3 L134.4,126.8 L133.9,128.4 L136.9,129.9 L139.8,132.5 L138.0,135.1 L135.4,137.6 L132.8,139.2 L129.7,141.3 L133.9,141.8 L134.7,143.3 L135.4,146.4 L133.9,149.0 L132.3,151.0 L125.5,152.4 L128.9,157.4 L133.6,160.1 L136.7,162.2 L135.6,163.7 L133.5,167.0 L133.8,169.5 L134.6,173.4"/><path d="M1.2,71.6 L1.9,76.2 L4.6,78.8 L10.3,79.3 L15.4,80.6 L17.0,81.4 L19.1,80.4 L23.2,80.6 L29.9,82.4 L31.9,85.5 L35.5,87.6 L37.6,90.1 L40.7,92.7 L42.7,94.3 L45.8,93.2 L48.9,93.5 L51.5,95.8 L51.0,97.9 L48.4,99.4 L47.9,101.0 L43.3,101.5 L39.1,102.5 L30.9,103.0 L25.7,104.0 L22.1,106.6 L19.1,107.6 L17.0,108.2 L15.4,106.1 L13.4,107.6 L9.3,108.2 L5.1,107.3 L1.0,108.4"/><path d="M66.3,68.6 L67.4,66.0 L72.0,63.5 L76.6,63.0 L78.5,62.4 L78.9,64.0 L82.3,64.5 L85.4,63.5 L88.0,60.4 L88.8,58.3 L90.5,58.3 L90.8,62.4 L89.0,65.5 L86.9,68.6 L84.9,71.2 L77.1,72.0 L73.5,72.2 L67.9,72.2 L66.3,70.7Z"/><path d="M88.2,52.9 L90.5,50.8 L93.3,51.8 L91.0,54.5 L89.0,54.5Z"/><path d="M92.1,102.3 L95.2,101.1 L99.9,101.9 L105.0,103.7 L104.0,104.7 L98.8,103.7 L94.7,102.9Z"/><path d="M80.3,141.3 L82.9,140.0 L86.5,140.4 L92.1,142.3 L96.3,144.9 L97.8,147.4 L97.3,149.5 L92.1,148.5 L87.0,145.6 L82.9,143.3Z"/><path d="M66.9,170.4 L69.2,170.2 L70.0,171.5 L69.5,172.8 L67.5,172.5Z"/><path d="M70.0,171.5 L71.6,171.5"/><path d="M141.3,188.8 L142.3,187.5 L143.6,188.5 L142.6,189.9Z"/><path d="M24.2,1.2 L25.2,4.1 L26.6,5.4 L27.6,3.6 L27.3,1.2"/><path d="M44.3,6.5 L45.8,5.4 L47.9,6.4 L50.5,9.3 L56.1,10.1 L56.4,12.9 L59.2,13.4 L58.7,10.3 L61.6,9.5 L61.8,16.5 L59.2,18.5 L55.6,22.1 L50.5,25.2 L46.3,28.8 L46.9,27.3 L51.5,23.2 L56.1,19.6 L58.7,18.0"/><path d="M47.4,9.8 L45.3,12.4 L43.3,14.4 L43.3,16.5"/><path d="M44.3,6.5 L47.4,9.8 L51.0,10.8 L56.1,10.1"/><path d="M69.0,15.4 L69.0,13.1 L72.0,13.1 L74.7,14.4"/><path d="M85.3,21.1 L86.5,19.4 L90.6,19.6 L93.7,21.1 L97.8,22.1 L99.7,24.7 L97.8,25.2 L95.3,23.2 L90.6,22.7 L87.5,23.5 L85.5,22.1Z"/><path d="M124.2,37.7 L126.1,36.4 L128.3,37.4 L128.6,39.8 L131.7,40.3 L135.8,39.8 L137.9,41.3 L137.2,43.9 L134.3,44.2 L131.7,43.2 L130.2,41.3 L127.1,40.3 L125.0,39.1Z"/><path d="M140.3,43.4 L142.5,44.4 L144.6,44.4 L144.8,47.5 L143.1,47.0 L142.5,50.1 L143.8,51.1 L143.4,53.2 L141.3,53.7 L141.7,51.1"/><path d="M155.2,52.1 L155.4,55.2 L156.7,54.2"/><path d="M237.9,168.9 L238.9,167.4 L241.6,167.0 L241.9,168.2 L244.5,169.4 L238.3,169.4Z"/><path d="M113.5,42.4 L114.5,40.3 L116.6,41.8 L119.4,41.5 L121.7,41.1 L119.9,43.4 L116.8,43.6 L114.2,43.4Z"/><g fill="#000"><path d="M109.1,45.4 L111.6,45.2 L109.6,47.7Z"/><path d="M140.6,43.6 L144.6,44.4 L144.8,47.5 L143.1,47.0 L142.2,45.6Z"/><path d="M141.5,50.8 L143.6,51.0 L143.4,53.2 L141.5,53.5Z"/><path d="M124.4,37.7 L126.1,36.6 L128.1,37.5 L128.4,39.6 L127.1,40.1 L125.2,39.0Z"/></g><path d="M135.1,59.4H137.9M152.9,58.3H155"/><circle cx="268.1" cy="170.9" r="1.5" shape-rendering="geometricPrecision"/></g><rect x="595.5" y="337.5" width="280" height="278" fill="none" stroke="#000" stroke-width="1"/><rect x="596.5" y="314.5" width="278" height="23" fill="#fff" stroke="#000" stroke-width="1"/></svg>
<div class="t" style="left:26.6px;top:10.5px">Daily Rainfall estimate for&nbsp; 15 May, 2012</div><div class="c" style="left:22px;top:122.6px">CU</div><div class="c" style="left:126px;top:157.6px">HA</div><div class="c" style="left:177px;top:166.6px">DR</div><div class="t" style="left:316.6px;top:10.5px">Daily Rainfall estimate for&nbsp; 16 May, 2012</div><div class="c" style="left:312px;top:122.6px">CU</div><div class="c" style="left:416px;top:157.6px">HA</div><div class="c" style="left:467px;top:166.6px">DR</div><div class="t" style="left:606.6px;top:10.5px">Daily Rainfall estimate for&nbsp; 17 May, 2012</div><div class="c" style="left:602px;top:122.6px">CU</div><div class="c" style="left:706px;top:157.6px">HA</div><div class="c" style="left:757px;top:166.6px">DR</div><div class="t" style="left:26.6px;top:315.5px">Daily Rainfall estimate for&nbsp; 18 May, 2012</div><div class="c" style="left:22px;top:427.6px">CU</div><div class="c" style="left:126px;top:462.6px">HA</div><div class="c" style="left:177px;top:471.6px">DR</div><div class="t" style="left:316.6px;top:315.5px">Daily Rainfall estimate for&nbsp; 19 May, 2012</div><div class="c" style="left:312px;top:427.6px">CU</div><div class="c" style="left:416px;top:462.6px">HA</div><div class="c" style="left:467px;top:471.6px">DR</div><div class="t" style="left:606.6px;top:315.5px">Daily Rainfall estimate for&nbsp; 20 May, 2012</div><div class="c" style="left:602px;top:427.6px">CU</div><div class="c" style="left:706px;top:462.6px">HA</div><div class="c" style="left:757px;top:471.6px">DR</div>
<div class="rt">Rainfall<br>Estimate<br>(RFE)</div>
<div class="rs" style="top:129.2px">Daily</div><div class="rs" style="top:148.7px">Total</div>
<div class="rs" style="top:189.2px">Data:</div><div class="rb" style="top:208px">NASA–</div><div class="rb" style="top:229.9px">TRMM</div>
<div class="lg"><div class="lt">RFE (mm)</div><div class="sw" style="top:28px;background:#FFFFFF"></div><div class="ll" style="top:29px">0 –.1</div><div class="sw" style="top:40px;background:#EED5B7"></div><div class="ll" style="top:41px">.1 –1</div><div class="sw" style="top:52px;background:#B4FAAA"></div><div class="ll" style="top:53px">1 –5</div><div class="sw" style="top:64px;background:#78F573"></div><div class="ll" style="top:65px">5 –10</div><div class="sw" style="top:76px;background:#B4F0FA"></div><div class="ll" style="top:77px">10 –20</div><div class="sw" style="top:88px;background:#78B9FA"></div><div class="ll" style="top:89px">20 –30</div><div class="sw" style="top:100px;background:#3C96F5"></div><div class="ll" style="top:101px">30 –40</div><div class="sw" style="top:112px;background:#1E6EEB"></div><div class="ll" style="top:113px">40 –50</div><div class="sw" style="top:124px;background:#FFE878"></div><div class="ll" style="top:125px">50 –65</div><div class="sw" style="top:136px;background:#FFA000"></div><div class="ll" style="top:137px">65 –80</div><div class="sw" style="top:148px;background:#FF3200"></div><div class="ll" style="top:149px">80 –100</div><div class="sw" style="top:160px;background:#A52A2A"></div><div class="ll" style="top:161px">> 100</div><div class="sw" style="top:172px;background:#D3D3D3"></div><div class="ll" style="top:173px">nodata</div></div>
</body></html>
